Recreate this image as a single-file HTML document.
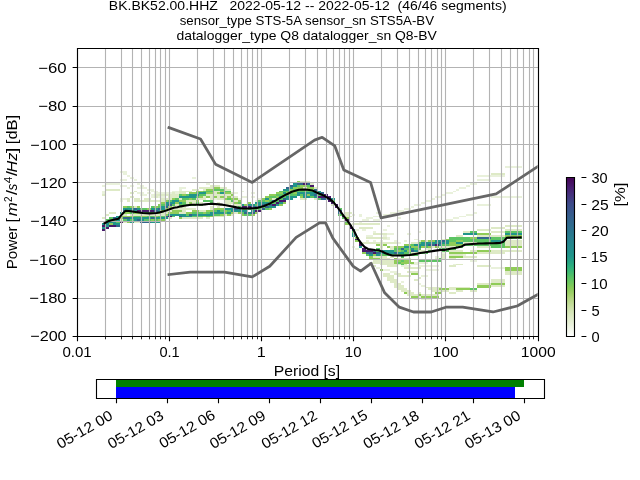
<!DOCTYPE html><html><head><meta charset="utf-8"><style>html,body{margin:0;padding:0;background:#fff;overflow:hidden}svg{display:block;will-change:transform}text{font-family:"Liberation Sans",sans-serif;white-space:pre}</style></head><body>
<svg width="640" height="480" viewBox="0 0 640 480">
<rect width="640" height="480" fill="#fff"/>
<defs><clipPath id="axc"><rect x="76.8" y="48" width="460.8" height="288"/></clipPath>
<linearGradient id="cbg" x1="0" y1="1" x2="0" y2="0"><stop offset="0.0000" stop-color="#ffffff"/><stop offset="0.0333" stop-color="#f5f8ee"/><stop offset="0.0667" stop-color="#ebf2de"/><stop offset="0.1000" stop-color="#e2edce"/><stop offset="0.1333" stop-color="#dae8c0"/><stop offset="0.1667" stop-color="#d0e3ae"/><stop offset="0.2000" stop-color="#c3dc99"/><stop offset="0.2333" stop-color="#b4d682"/><stop offset="0.2667" stop-color="#9fd069"/><stop offset="0.3000" stop-color="#89cb59"/><stop offset="0.3333" stop-color="#71c85e"/><stop offset="0.3667" stop-color="#59c364"/><stop offset="0.4000" stop-color="#43ba71"/><stop offset="0.4333" stop-color="#2db17d"/><stop offset="0.4667" stop-color="#27a383"/><stop offset="0.5000" stop-color="#20968a"/><stop offset="0.5333" stop-color="#228f8b"/><stop offset="0.5667" stop-color="#24898d"/><stop offset="0.6000" stop-color="#26828e"/><stop offset="0.6333" stop-color="#297a8e"/><stop offset="0.6667" stop-color="#2c728e"/><stop offset="0.7000" stop-color="#306a8e"/><stop offset="0.7333" stop-color="#33638d"/><stop offset="0.7667" stop-color="#375b8c"/><stop offset="0.8000" stop-color="#3a528b"/><stop offset="0.8333" stop-color="#3e4a89"/><stop offset="0.8667" stop-color="#423b81"/><stop offset="0.9000" stop-color="#462d7a"/><stop offset="0.9333" stop-color="#471e70"/><stop offset="0.9667" stop-color="#461062"/><stop offset="1.0000" stop-color="#440154"/></linearGradient>
</defs>
<g clip-path="url(#axc)" shape-rendering="crispEdges"><rect x="179.00" y="191.00" width="3.00" height="1.00" fill="#deeac6"/><rect x="179.00" y="189.00" width="3.00" height="2.00" fill="#e9f1db"/><rect x="179.00" y="187.00" width="3.00" height="2.00" fill="#e9f1db"/><rect x="182.00" y="198.00" width="4.00" height="2.00" fill="#5cc463"/><rect x="182.00" y="187.00" width="4.00" height="2.00" fill="#e9f1db"/><rect x="192.00" y="189.00" width="4.00" height="2.00" fill="#deeac6"/><rect x="192.00" y="177.00" width="4.00" height="2.00" fill="#e9f1db"/><rect x="196.00" y="196.00" width="3.00" height="2.00" fill="#5cc463"/><rect x="196.00" y="192.00" width="3.00" height="2.00" fill="#5cc463"/><rect x="203.00" y="194.00" width="3.00" height="2.00" fill="#5cc463"/><rect x="206.00" y="192.00" width="4.00" height="2.00" fill="#90cc58"/><rect x="206.00" y="189.00" width="4.00" height="2.00" fill="#90cc58"/><rect x="206.00" y="183.00" width="4.00" height="2.00" fill="#e9f1db"/><rect x="210.00" y="194.00" width="3.00" height="2.00" fill="#deeac6"/><rect x="213.00" y="198.00" width="4.00" height="2.00" fill="#e9f1db"/><rect x="213.00" y="196.00" width="4.00" height="2.00" fill="#90cc58"/><rect x="213.00" y="194.00" width="4.00" height="2.00" fill="#deeac6"/><rect x="213.00" y="187.00" width="4.00" height="2.00" fill="#90cc58"/><rect x="217.00" y="185.00" width="3.00" height="2.00" fill="#deeac6"/><rect x="220.00" y="196.00" width="4.00" height="2.00" fill="#90cc58"/><rect x="224.00" y="198.00" width="3.00" height="2.00" fill="#90cc58"/><rect x="227.00" y="189.00" width="4.00" height="2.00" fill="#deeac6"/><rect x="231.00" y="196.00" width="3.00" height="2.00" fill="#deeac6"/><rect x="231.00" y="194.00" width="3.00" height="2.00" fill="#90cc58"/><rect x="234.00" y="192.00" width="4.00" height="2.00" fill="#e9f1db"/><rect x="234.00" y="181.00" width="4.00" height="2.00" fill="#e9f1db"/><rect x="238.00" y="198.00" width="3.00" height="2.00" fill="#e9f1db"/><rect x="241.00" y="196.00" width="3.00" height="2.00" fill="#e9f1db"/><rect x="241.00" y="191.00" width="3.00" height="1.00" fill="#e9f1db"/><rect x="244.00" y="196.00" width="4.00" height="2.00" fill="#e9f1db"/><rect x="251.00" y="196.00" width="4.00" height="2.00" fill="#e9f1db"/><rect x="251.00" y="192.00" width="4.00" height="2.00" fill="#e9f1db"/><rect x="255.00" y="200.00" width="3.00" height="2.00" fill="#e9f1db"/><rect x="258.00" y="204.00" width="4.00" height="2.00" fill="#20958a"/><rect x="258.00" y="198.00" width="4.00" height="2.00" fill="#e9f1db"/><rect x="352.00" y="246.00" width="3.00" height="2.00" fill="#e9f1db"/><rect x="352.00" y="214.00" width="3.00" height="2.00" fill="#e9f1db"/><rect x="355.00" y="248.00" width="4.00" height="2.00" fill="#e9f1db"/><rect x="355.00" y="229.00" width="4.00" height="2.00" fill="#e9f1db"/><rect x="355.00" y="223.00" width="4.00" height="2.00" fill="#deeac6"/><rect x="359.00" y="221.00" width="3.00" height="2.00" fill="#e9f1db"/><rect x="359.00" y="216.00" width="3.00" height="1.00" fill="#e9f1db"/><rect x="359.00" y="214.00" width="3.00" height="2.00" fill="#e9f1db"/><rect x="362.00" y="229.00" width="4.00" height="2.00" fill="#e9f1db"/><rect x="366.00" y="240.00" width="3.00" height="2.00" fill="#e9f1db"/><rect x="366.00" y="235.00" width="3.00" height="2.00" fill="#e9f1db"/><rect x="366.00" y="219.00" width="3.00" height="2.00" fill="#e9f1db"/><rect x="369.00" y="235.00" width="4.00" height="2.00" fill="#e9f1db"/><rect x="373.00" y="240.00" width="3.00" height="2.00" fill="#e9f1db"/><rect x="373.00" y="231.00" width="3.00" height="2.00" fill="#e9f1db"/><rect x="376.00" y="237.00" width="4.00" height="2.00" fill="#deeac6"/><rect x="376.00" y="223.00" width="4.00" height="2.00" fill="#deeac6"/><rect x="376.00" y="212.00" width="4.00" height="2.00" fill="#e9f1db"/><rect x="380.00" y="248.00" width="3.00" height="2.00" fill="#e9f1db"/><rect x="380.00" y="240.00" width="3.00" height="2.00" fill="#e9f1db"/><rect x="383.00" y="239.00" width="4.00" height="1.00" fill="#e9f1db"/><rect x="383.00" y="237.00" width="4.00" height="2.00" fill="#deeac6"/><rect x="383.00" y="235.00" width="4.00" height="2.00" fill="#e9f1db"/><rect x="383.00" y="233.00" width="4.00" height="2.00" fill="#deeac6"/><rect x="383.00" y="229.00" width="4.00" height="2.00" fill="#e9f1db"/><rect x="387.00" y="239.00" width="3.00" height="1.00" fill="#e9f1db"/><rect x="387.00" y="237.00" width="3.00" height="2.00" fill="#e9f1db"/><rect x="387.00" y="225.00" width="3.00" height="2.00" fill="#e9f1db"/><rect x="394.00" y="246.00" width="3.00" height="2.00" fill="#90cc58"/><rect x="394.00" y="240.00" width="3.00" height="2.00" fill="#e9f1db"/><rect x="397.00" y="258.00" width="4.00" height="2.00" fill="#deeac6"/><rect x="397.00" y="242.00" width="4.00" height="2.00" fill="#e9f1db"/><rect x="397.00" y="217.00" width="4.00" height="2.00" fill="#e9f1db"/><rect x="404.00" y="258.00" width="3.00" height="2.00" fill="#deeac6"/><rect x="404.00" y="244.00" width="3.00" height="2.00" fill="#90cc58"/><rect x="404.00" y="240.00" width="3.00" height="2.00" fill="#e9f1db"/><rect x="407.00" y="250.00" width="4.00" height="2.00" fill="#90cc58"/><rect x="407.00" y="248.00" width="4.00" height="2.00" fill="#5cc463"/><rect x="407.00" y="233.00" width="4.00" height="2.00" fill="#e9f1db"/><rect x="414.00" y="252.00" width="4.00" height="2.00" fill="#deeac6"/><rect x="414.00" y="239.00" width="4.00" height="1.00" fill="#e9f1db"/><rect x="418.00" y="252.00" width="3.00" height="2.00" fill="#5cc463"/><rect x="418.00" y="244.00" width="3.00" height="2.00" fill="#20958a"/><rect x="418.00" y="231.00" width="3.00" height="2.00" fill="#e9f1db"/><rect x="425.00" y="248.00" width="3.00" height="2.00" fill="#e9f1db"/><rect x="425.00" y="242.00" width="3.00" height="2.00" fill="#20958a"/><rect x="432.00" y="250.00" width="3.00" height="2.00" fill="#5cc463"/><rect x="432.00" y="246.00" width="3.00" height="2.00" fill="#deeac6"/><rect x="435.00" y="256.00" width="4.00" height="2.00" fill="#e9f1db"/><rect x="435.00" y="240.00" width="4.00" height="2.00" fill="#20958a"/><rect x="439.00" y="258.00" width="3.00" height="2.00" fill="#5cc463"/><rect x="442.00" y="252.00" width="4.00" height="2.00" fill="#e9f1db"/><rect x="442.00" y="250.00" width="4.00" height="2.00" fill="#5cc463"/><rect x="446.00" y="244.00" width="3.00" height="2.00" fill="#5cc463"/><rect x="453.00" y="264.00" width="3.00" height="1.00" fill="#e9f1db"/><rect x="453.00" y="246.00" width="3.00" height="2.00" fill="#deeac6"/><rect x="463.00" y="254.00" width="3.00" height="2.00" fill="#e9f1db"/><rect x="463.00" y="252.00" width="3.00" height="2.00" fill="#90cc58"/><rect x="404.00" y="208.00" width="3.00" height="2.00" fill="#e9f1db"/><rect x="407.00" y="208.00" width="4.00" height="2.00" fill="#e9f1db"/><rect x="411.00" y="206.00" width="3.00" height="2.00" fill="#e9f1db"/><rect x="414.00" y="204.00" width="4.00" height="2.00" fill="#e9f1db"/><rect x="418.00" y="204.00" width="3.00" height="2.00" fill="#e9f1db"/><rect x="421.00" y="202.00" width="4.00" height="2.00" fill="#e9f1db"/><rect x="425.00" y="200.00" width="3.00" height="2.00" fill="#e9f1db"/><rect x="428.00" y="200.00" width="4.00" height="2.00" fill="#e9f1db"/><rect x="432.00" y="198.00" width="3.00" height="2.00" fill="#e9f1db"/><rect x="435.00" y="196.00" width="4.00" height="2.00" fill="#e9f1db"/><rect x="439.00" y="196.00" width="3.00" height="2.00" fill="#e9f1db"/><rect x="442.00" y="194.00" width="4.00" height="2.00" fill="#e9f1db"/><rect x="446.00" y="192.00" width="3.00" height="2.00" fill="#e9f1db"/><rect x="449.00" y="192.00" width="4.00" height="2.00" fill="#e9f1db"/><rect x="453.00" y="191.00" width="3.00" height="1.00" fill="#e9f1db"/><rect x="456.00" y="189.00" width="3.00" height="2.00" fill="#e9f1db"/><rect x="459.00" y="187.00" width="4.00" height="2.00" fill="#e9f1db"/><rect x="463.00" y="187.00" width="3.00" height="2.00" fill="#e9f1db"/><rect x="466.00" y="185.00" width="4.00" height="2.00" fill="#e9f1db"/><rect x="470.00" y="183.00" width="3.00" height="2.00" fill="#e9f1db"/><rect x="473.00" y="183.00" width="4.00" height="2.00" fill="#e9f1db"/><rect x="439.00" y="221.00" width="3.00" height="2.00" fill="#e9f1db"/><rect x="442.00" y="221.00" width="4.00" height="2.00" fill="#e9f1db"/><rect x="446.00" y="219.00" width="3.00" height="2.00" fill="#e9f1db"/><rect x="449.00" y="219.00" width="4.00" height="2.00" fill="#e9f1db"/><rect x="453.00" y="217.00" width="3.00" height="2.00" fill="#e9f1db"/><rect x="456.00" y="217.00" width="3.00" height="2.00" fill="#e9f1db"/><rect x="459.00" y="216.00" width="4.00" height="1.00" fill="#e9f1db"/><rect x="463.00" y="216.00" width="3.00" height="1.00" fill="#e9f1db"/><rect x="466.00" y="214.00" width="4.00" height="2.00" fill="#e9f1db"/><rect x="470.00" y="214.00" width="3.00" height="2.00" fill="#e9f1db"/><rect x="473.00" y="212.00" width="4.00" height="2.00" fill="#e9f1db"/><rect x="477.00" y="175.00" width="3.00" height="2.00" fill="#e9f1db"/><rect x="480.00" y="175.00" width="4.00" height="2.00" fill="#e9f1db"/><rect x="484.00" y="175.00" width="3.00" height="2.00" fill="#e9f1db"/><rect x="487.00" y="175.00" width="4.00" height="2.00" fill="#e9f1db"/><rect x="491.00" y="175.00" width="3.00" height="2.00" fill="#e9f1db"/><rect x="494.00" y="175.00" width="4.00" height="2.00" fill="#e9f1db"/><rect x="498.00" y="175.00" width="3.00" height="2.00" fill="#e9f1db"/><rect x="501.00" y="175.00" width="4.00" height="2.00" fill="#e9f1db"/><rect x="491.00" y="173.00" width="3.00" height="2.00" fill="#deeac6"/><rect x="494.00" y="173.00" width="4.00" height="2.00" fill="#deeac6"/><rect x="498.00" y="173.00" width="3.00" height="2.00" fill="#deeac6"/><rect x="501.00" y="173.00" width="4.00" height="2.00" fill="#deeac6"/><rect x="477.00" y="179.00" width="3.00" height="2.00" fill="#e9f1db"/><rect x="480.00" y="179.00" width="4.00" height="2.00" fill="#e9f1db"/><rect x="484.00" y="179.00" width="3.00" height="2.00" fill="#e9f1db"/><rect x="487.00" y="179.00" width="4.00" height="2.00" fill="#e9f1db"/><rect x="505.00" y="166.00" width="3.00" height="2.00" fill="#e9f1db"/><rect x="508.00" y="166.00" width="3.00" height="2.00" fill="#e9f1db"/><rect x="511.00" y="166.00" width="4.00" height="2.00" fill="#e9f1db"/><rect x="515.00" y="166.00" width="3.00" height="2.00" fill="#e9f1db"/><rect x="518.00" y="166.00" width="4.00" height="2.00" fill="#e9f1db"/><rect x="491.00" y="196.00" width="3.00" height="2.00" fill="#e9f1db"/><rect x="494.00" y="196.00" width="4.00" height="2.00" fill="#e9f1db"/><rect x="498.00" y="196.00" width="3.00" height="2.00" fill="#e9f1db"/><rect x="501.00" y="196.00" width="4.00" height="2.00" fill="#e9f1db"/><rect x="505.00" y="196.00" width="3.00" height="2.00" fill="#e9f1db"/><rect x="508.00" y="196.00" width="3.00" height="2.00" fill="#e9f1db"/><rect x="511.00" y="196.00" width="4.00" height="2.00" fill="#e9f1db"/><rect x="515.00" y="196.00" width="3.00" height="2.00" fill="#e9f1db"/><rect x="518.00" y="196.00" width="4.00" height="2.00" fill="#e9f1db"/><rect x="477.00" y="204.00" width="3.00" height="2.00" fill="#e9f1db"/><rect x="480.00" y="204.00" width="4.00" height="2.00" fill="#e9f1db"/><rect x="484.00" y="204.00" width="3.00" height="2.00" fill="#e9f1db"/><rect x="487.00" y="204.00" width="4.00" height="2.00" fill="#e9f1db"/><rect x="362.00" y="219.00" width="4.00" height="2.00" fill="#e9f1db"/><rect x="366.00" y="217.00" width="3.00" height="2.00" fill="#e9f1db"/><rect x="369.00" y="217.00" width="4.00" height="2.00" fill="#e9f1db"/><rect x="373.00" y="216.00" width="3.00" height="1.00" fill="#e9f1db"/><rect x="376.00" y="216.00" width="4.00" height="1.00" fill="#e9f1db"/><rect x="380.00" y="216.00" width="3.00" height="1.00" fill="#e9f1db"/><rect x="383.00" y="214.00" width="4.00" height="2.00" fill="#e9f1db"/><rect x="387.00" y="214.00" width="3.00" height="2.00" fill="#e9f1db"/><rect x="390.00" y="212.00" width="4.00" height="2.00" fill="#e9f1db"/><rect x="394.00" y="212.00" width="3.00" height="2.00" fill="#e9f1db"/><rect x="397.00" y="210.00" width="4.00" height="2.00" fill="#e9f1db"/><rect x="401.00" y="210.00" width="3.00" height="2.00" fill="#e9f1db"/><rect x="123.00" y="173.00" width="4.00" height="2.00" fill="#e9f1db"/><rect x="127.00" y="175.00" width="3.00" height="2.00" fill="#e9f1db"/><rect x="130.00" y="177.00" width="4.00" height="2.00" fill="#e9f1db"/><rect x="134.00" y="179.00" width="3.00" height="2.00" fill="#e9f1db"/><rect x="137.00" y="183.00" width="3.00" height="2.00" fill="#e9f1db"/><rect x="140.00" y="185.00" width="4.00" height="2.00" fill="#e9f1db"/><rect x="144.00" y="187.00" width="3.00" height="2.00" fill="#e9f1db"/><rect x="147.00" y="189.00" width="4.00" height="2.00" fill="#e9f1db"/><rect x="151.00" y="191.00" width="3.00" height="1.00" fill="#e9f1db"/><rect x="154.00" y="192.00" width="4.00" height="2.00" fill="#e9f1db"/><rect x="158.00" y="194.00" width="3.00" height="2.00" fill="#deeac6"/><rect x="161.00" y="196.00" width="4.00" height="2.00" fill="#e9f1db"/><rect x="102.00" y="185.00" width="4.00" height="2.00" fill="#e9f1db"/><rect x="102.00" y="191.00" width="4.00" height="1.00" fill="#e9f1db"/><rect x="102.00" y="192.00" width="4.00" height="2.00" fill="#e9f1db"/><rect x="102.00" y="194.00" width="4.00" height="2.00" fill="#deeac6"/><rect x="106.00" y="183.00" width="3.00" height="2.00" fill="#e9f1db"/><rect x="106.00" y="189.00" width="3.00" height="2.00" fill="#deeac6"/><rect x="109.00" y="183.00" width="4.00" height="2.00" fill="#e9f1db"/><rect x="109.00" y="189.00" width="4.00" height="2.00" fill="#deeac6"/><rect x="113.00" y="183.00" width="3.00" height="2.00" fill="#e9f1db"/><rect x="113.00" y="189.00" width="3.00" height="2.00" fill="#deeac6"/><rect x="116.00" y="183.00" width="4.00" height="2.00" fill="#e9f1db"/><rect x="116.00" y="189.00" width="4.00" height="2.00" fill="#deeac6"/><rect x="120.00" y="171.00" width="3.00" height="2.00" fill="#e9f1db"/><rect x="120.00" y="179.00" width="3.00" height="2.00" fill="#e9f1db"/><rect x="120.00" y="185.00" width="3.00" height="2.00" fill="#e9f1db"/><rect x="120.00" y="198.00" width="3.00" height="2.00" fill="#e9f1db"/><rect x="120.00" y="200.00" width="3.00" height="2.00" fill="#e9f1db"/><rect x="123.00" y="171.00" width="4.00" height="2.00" fill="#e9f1db"/><rect x="123.00" y="179.00" width="4.00" height="2.00" fill="#e9f1db"/><rect x="123.00" y="185.00" width="4.00" height="2.00" fill="#e9f1db"/><rect x="123.00" y="198.00" width="4.00" height="2.00" fill="#e9f1db"/><rect x="127.00" y="187.00" width="3.00" height="2.00" fill="#e9f1db"/><rect x="127.00" y="198.00" width="3.00" height="2.00" fill="#deeac6"/><rect x="127.00" y="200.00" width="3.00" height="2.00" fill="#deeac6"/><rect x="130.00" y="185.00" width="4.00" height="2.00" fill="#e9f1db"/><rect x="130.00" y="192.00" width="4.00" height="2.00" fill="#deeac6"/><rect x="130.00" y="196.00" width="4.00" height="2.00" fill="#deeac6"/><rect x="134.00" y="191.00" width="3.00" height="1.00" fill="#deeac6"/><rect x="134.00" y="198.00" width="3.00" height="2.00" fill="#deeac6"/><rect x="134.00" y="200.00" width="3.00" height="2.00" fill="#deeac6"/><rect x="137.00" y="187.00" width="3.00" height="2.00" fill="#e9f1db"/><rect x="137.00" y="192.00" width="3.00" height="2.00" fill="#e9f1db"/><rect x="137.00" y="198.00" width="3.00" height="2.00" fill="#deeac6"/><rect x="137.00" y="200.00" width="3.00" height="2.00" fill="#deeac6"/><rect x="140.00" y="187.00" width="4.00" height="2.00" fill="#e9f1db"/><rect x="140.00" y="192.00" width="4.00" height="2.00" fill="#e9f1db"/><rect x="140.00" y="194.00" width="4.00" height="2.00" fill="#e9f1db"/><rect x="140.00" y="200.00" width="4.00" height="2.00" fill="#deeac6"/><rect x="144.00" y="194.00" width="3.00" height="2.00" fill="#e9f1db"/><rect x="144.00" y="198.00" width="3.00" height="2.00" fill="#deeac6"/><rect x="144.00" y="200.00" width="3.00" height="2.00" fill="#deeac6"/><rect x="147.00" y="192.00" width="4.00" height="2.00" fill="#e9f1db"/><rect x="147.00" y="198.00" width="4.00" height="2.00" fill="#deeac6"/><rect x="147.00" y="200.00" width="4.00" height="2.00" fill="#deeac6"/><rect x="151.00" y="189.00" width="3.00" height="2.00" fill="#e9f1db"/><rect x="151.00" y="194.00" width="3.00" height="2.00" fill="#e9f1db"/><rect x="151.00" y="196.00" width="3.00" height="2.00" fill="#e9f1db"/><rect x="151.00" y="200.00" width="3.00" height="2.00" fill="#deeac6"/><rect x="154.00" y="191.00" width="4.00" height="1.00" fill="#e9f1db"/><rect x="154.00" y="194.00" width="4.00" height="2.00" fill="#deeac6"/><rect x="154.00" y="196.00" width="4.00" height="2.00" fill="#deeac6"/><rect x="154.00" y="200.00" width="4.00" height="2.00" fill="#deeac6"/><rect x="158.00" y="192.00" width="3.00" height="2.00" fill="#e9f1db"/><rect x="158.00" y="196.00" width="3.00" height="2.00" fill="#e9f1db"/><rect x="158.00" y="200.00" width="3.00" height="2.00" fill="#deeac6"/><rect x="161.00" y="192.00" width="4.00" height="2.00" fill="#e9f1db"/><rect x="161.00" y="194.00" width="4.00" height="2.00" fill="#deeac6"/><rect x="161.00" y="198.00" width="4.00" height="2.00" fill="#deeac6"/><rect x="161.00" y="200.00" width="4.00" height="2.00" fill="#deeac6"/><rect x="165.00" y="192.00" width="3.00" height="2.00" fill="#e9f1db"/><rect x="165.00" y="194.00" width="3.00" height="2.00" fill="#deeac6"/><rect x="165.00" y="198.00" width="3.00" height="2.00" fill="#deeac6"/><rect x="165.00" y="200.00" width="3.00" height="2.00" fill="#90cc58"/><rect x="168.00" y="192.00" width="4.00" height="2.00" fill="#e9f1db"/><rect x="168.00" y="194.00" width="4.00" height="2.00" fill="#deeac6"/><rect x="168.00" y="196.00" width="4.00" height="2.00" fill="#deeac6"/><rect x="168.00" y="198.00" width="4.00" height="2.00" fill="#deeac6"/><rect x="168.00" y="200.00" width="4.00" height="2.00" fill="#5cc463"/><rect x="172.00" y="191.00" width="3.00" height="1.00" fill="#e9f1db"/><rect x="172.00" y="192.00" width="3.00" height="2.00" fill="#deeac6"/><rect x="172.00" y="194.00" width="3.00" height="2.00" fill="#deeac6"/><rect x="172.00" y="196.00" width="3.00" height="2.00" fill="#deeac6"/><rect x="172.00" y="198.00" width="3.00" height="2.00" fill="#90cc58"/><rect x="172.00" y="200.00" width="3.00" height="2.00" fill="#20958a"/><rect x="175.00" y="191.00" width="4.00" height="1.00" fill="#e9f1db"/><rect x="175.00" y="192.00" width="4.00" height="2.00" fill="#e9f1db"/><rect x="175.00" y="194.00" width="4.00" height="2.00" fill="#deeac6"/><rect x="175.00" y="196.00" width="4.00" height="2.00" fill="#deeac6"/><rect x="175.00" y="198.00" width="4.00" height="2.00" fill="#5cc463"/><rect x="175.00" y="200.00" width="4.00" height="2.00" fill="#20958a"/><rect x="369.00" y="258.00" width="4.00" height="2.00" fill="#90cc58"/><rect x="369.00" y="262.00" width="4.00" height="2.00" fill="#deeac6"/><rect x="369.00" y="264.00" width="4.00" height="1.00" fill="#e9f1db"/><rect x="373.00" y="258.00" width="3.00" height="2.00" fill="#90cc58"/><rect x="373.00" y="260.00" width="3.00" height="2.00" fill="#deeac6"/><rect x="373.00" y="262.00" width="3.00" height="2.00" fill="#deeac6"/><rect x="373.00" y="265.00" width="3.00" height="2.00" fill="#deeac6"/><rect x="376.00" y="258.00" width="4.00" height="2.00" fill="#90cc58"/><rect x="376.00" y="260.00" width="4.00" height="2.00" fill="#deeac6"/><rect x="376.00" y="262.00" width="4.00" height="2.00" fill="#deeac6"/><rect x="376.00" y="267.00" width="4.00" height="2.00" fill="#e9f1db"/><rect x="380.00" y="258.00" width="3.00" height="2.00" fill="#deeac6"/><rect x="380.00" y="260.00" width="3.00" height="2.00" fill="#deeac6"/><rect x="380.00" y="262.00" width="3.00" height="2.00" fill="#deeac6"/><rect x="380.00" y="264.00" width="3.00" height="1.00" fill="#deeac6"/><rect x="380.00" y="269.00" width="3.00" height="2.00" fill="#90cc58"/><rect x="383.00" y="260.00" width="4.00" height="2.00" fill="#deeac6"/><rect x="383.00" y="262.00" width="4.00" height="2.00" fill="#deeac6"/><rect x="383.00" y="264.00" width="4.00" height="1.00" fill="#deeac6"/><rect x="383.00" y="269.00" width="4.00" height="2.00" fill="#e9f1db"/><rect x="383.00" y="273.00" width="4.00" height="2.00" fill="#deeac6"/><rect x="383.00" y="275.00" width="4.00" height="2.00" fill="#deeac6"/><rect x="387.00" y="260.00" width="3.00" height="2.00" fill="#deeac6"/><rect x="387.00" y="262.00" width="3.00" height="2.00" fill="#deeac6"/><rect x="387.00" y="264.00" width="3.00" height="1.00" fill="#deeac6"/><rect x="387.00" y="265.00" width="3.00" height="2.00" fill="#deeac6"/><rect x="387.00" y="269.00" width="3.00" height="2.00" fill="#e9f1db"/><rect x="387.00" y="273.00" width="3.00" height="2.00" fill="#deeac6"/><rect x="387.00" y="275.00" width="3.00" height="2.00" fill="#deeac6"/><rect x="387.00" y="277.00" width="3.00" height="2.00" fill="#deeac6"/><rect x="387.00" y="279.00" width="3.00" height="2.00" fill="#deeac6"/><rect x="390.00" y="260.00" width="4.00" height="2.00" fill="#deeac6"/><rect x="390.00" y="262.00" width="4.00" height="2.00" fill="#deeac6"/><rect x="390.00" y="264.00" width="4.00" height="1.00" fill="#deeac6"/><rect x="390.00" y="265.00" width="4.00" height="2.00" fill="#deeac6"/><rect x="390.00" y="271.00" width="4.00" height="2.00" fill="#e9f1db"/><rect x="390.00" y="275.00" width="4.00" height="2.00" fill="#deeac6"/><rect x="390.00" y="277.00" width="4.00" height="2.00" fill="#deeac6"/><rect x="390.00" y="279.00" width="4.00" height="2.00" fill="#deeac6"/><rect x="390.00" y="281.00" width="4.00" height="2.00" fill="#deeac6"/><rect x="394.00" y="258.00" width="3.00" height="2.00" fill="#90cc58"/><rect x="394.00" y="260.00" width="3.00" height="2.00" fill="#90cc58"/><rect x="394.00" y="262.00" width="3.00" height="2.00" fill="#90cc58"/><rect x="394.00" y="264.00" width="3.00" height="1.00" fill="#deeac6"/><rect x="394.00" y="265.00" width="3.00" height="2.00" fill="#deeac6"/><rect x="394.00" y="271.00" width="3.00" height="2.00" fill="#e9f1db"/><rect x="394.00" y="273.00" width="3.00" height="2.00" fill="#deeac6"/><rect x="394.00" y="279.00" width="3.00" height="2.00" fill="#deeac6"/><rect x="394.00" y="281.00" width="3.00" height="2.00" fill="#deeac6"/><rect x="394.00" y="283.00" width="3.00" height="2.00" fill="#deeac6"/><rect x="394.00" y="285.00" width="3.00" height="2.00" fill="#deeac6"/><rect x="394.00" y="287.00" width="3.00" height="1.00" fill="#deeac6"/><rect x="397.00" y="260.00" width="4.00" height="2.00" fill="#90cc58"/><rect x="397.00" y="262.00" width="4.00" height="2.00" fill="#5cc463"/><rect x="397.00" y="264.00" width="4.00" height="1.00" fill="#deeac6"/><rect x="397.00" y="273.00" width="4.00" height="2.00" fill="#deeac6"/><rect x="397.00" y="275.00" width="4.00" height="2.00" fill="#deeac6"/><rect x="397.00" y="283.00" width="4.00" height="2.00" fill="#deeac6"/><rect x="397.00" y="285.00" width="4.00" height="2.00" fill="#deeac6"/><rect x="397.00" y="287.00" width="4.00" height="1.00" fill="#deeac6"/><rect x="397.00" y="288.00" width="4.00" height="2.00" fill="#deeac6"/><rect x="401.00" y="258.00" width="3.00" height="2.00" fill="#deeac6"/><rect x="401.00" y="260.00" width="3.00" height="2.00" fill="#5cc463"/><rect x="401.00" y="262.00" width="3.00" height="2.00" fill="#90cc58"/><rect x="401.00" y="264.00" width="3.00" height="1.00" fill="#5cc463"/><rect x="401.00" y="265.00" width="3.00" height="2.00" fill="#e9f1db"/><rect x="401.00" y="275.00" width="3.00" height="2.00" fill="#deeac6"/><rect x="401.00" y="281.00" width="3.00" height="2.00" fill="#e9f1db"/><rect x="401.00" y="285.00" width="3.00" height="2.00" fill="#deeac6"/><rect x="401.00" y="287.00" width="3.00" height="1.00" fill="#deeac6"/><rect x="401.00" y="288.00" width="3.00" height="2.00" fill="#deeac6"/><rect x="401.00" y="290.00" width="3.00" height="2.00" fill="#deeac6"/><rect x="404.00" y="260.00" width="3.00" height="2.00" fill="#90cc58"/><rect x="404.00" y="262.00" width="3.00" height="2.00" fill="#90cc58"/><rect x="404.00" y="264.00" width="3.00" height="1.00" fill="#deeac6"/><rect x="404.00" y="265.00" width="3.00" height="2.00" fill="#e9f1db"/><rect x="404.00" y="267.00" width="3.00" height="2.00" fill="#deeac6"/><rect x="404.00" y="275.00" width="3.00" height="2.00" fill="#deeac6"/><rect x="404.00" y="288.00" width="3.00" height="2.00" fill="#deeac6"/><rect x="404.00" y="290.00" width="3.00" height="2.00" fill="#deeac6"/><rect x="404.00" y="292.00" width="3.00" height="2.00" fill="#90cc58"/><rect x="407.00" y="258.00" width="4.00" height="2.00" fill="#deeac6"/><rect x="407.00" y="260.00" width="4.00" height="2.00" fill="#90cc58"/><rect x="407.00" y="262.00" width="4.00" height="2.00" fill="#90cc58"/><rect x="407.00" y="265.00" width="4.00" height="2.00" fill="#e9f1db"/><rect x="407.00" y="267.00" width="4.00" height="2.00" fill="#deeac6"/><rect x="407.00" y="271.00" width="4.00" height="2.00" fill="#deeac6"/><rect x="407.00" y="275.00" width="4.00" height="2.00" fill="#deeac6"/><rect x="407.00" y="290.00" width="4.00" height="2.00" fill="#deeac6"/><rect x="407.00" y="292.00" width="4.00" height="2.00" fill="#deeac6"/><rect x="407.00" y="294.00" width="4.00" height="2.00" fill="#deeac6"/><rect x="411.00" y="262.00" width="3.00" height="2.00" fill="#90cc58"/><rect x="411.00" y="264.00" width="3.00" height="1.00" fill="#e9f1db"/><rect x="411.00" y="267.00" width="3.00" height="2.00" fill="#deeac6"/><rect x="411.00" y="271.00" width="3.00" height="2.00" fill="#deeac6"/><rect x="411.00" y="273.00" width="3.00" height="2.00" fill="#90cc58"/><rect x="411.00" y="292.00" width="3.00" height="2.00" fill="#deeac6"/><rect x="411.00" y="294.00" width="3.00" height="2.00" fill="#deeac6"/><rect x="411.00" y="296.00" width="3.00" height="2.00" fill="#90cc58"/><rect x="414.00" y="262.00" width="4.00" height="2.00" fill="#e9f1db"/><rect x="414.00" y="264.00" width="4.00" height="1.00" fill="#e9f1db"/><rect x="414.00" y="267.00" width="4.00" height="2.00" fill="#deeac6"/><rect x="414.00" y="271.00" width="4.00" height="2.00" fill="#deeac6"/><rect x="414.00" y="273.00" width="4.00" height="2.00" fill="#90cc58"/><rect x="414.00" y="279.00" width="4.00" height="2.00" fill="#deeac6"/><rect x="414.00" y="294.00" width="4.00" height="2.00" fill="#deeac6"/><rect x="414.00" y="296.00" width="4.00" height="2.00" fill="#90cc58"/><rect x="414.00" y="298.00" width="4.00" height="2.00" fill="#e9f1db"/><rect x="418.00" y="260.00" width="3.00" height="2.00" fill="#5cc463"/><rect x="418.00" y="262.00" width="3.00" height="2.00" fill="#e9f1db"/><rect x="418.00" y="265.00" width="3.00" height="2.00" fill="#e9f1db"/><rect x="418.00" y="267.00" width="3.00" height="2.00" fill="#deeac6"/><rect x="418.00" y="277.00" width="3.00" height="2.00" fill="#deeac6"/><rect x="418.00" y="283.00" width="3.00" height="2.00" fill="#e9f1db"/><rect x="418.00" y="292.00" width="3.00" height="2.00" fill="#deeac6"/><rect x="418.00" y="294.00" width="3.00" height="2.00" fill="#90cc58"/><rect x="418.00" y="296.00" width="3.00" height="2.00" fill="#e9f1db"/><rect x="421.00" y="260.00" width="4.00" height="2.00" fill="#5cc463"/><rect x="421.00" y="262.00" width="4.00" height="2.00" fill="#e9f1db"/><rect x="421.00" y="265.00" width="4.00" height="2.00" fill="#e9f1db"/><rect x="421.00" y="275.00" width="4.00" height="2.00" fill="#e9f1db"/><rect x="421.00" y="285.00" width="4.00" height="2.00" fill="#e9f1db"/><rect x="421.00" y="294.00" width="4.00" height="2.00" fill="#deeac6"/><rect x="421.00" y="296.00" width="4.00" height="2.00" fill="#90cc58"/><rect x="421.00" y="298.00" width="4.00" height="2.00" fill="#e9f1db"/><rect x="425.00" y="260.00" width="3.00" height="2.00" fill="#5cc463"/><rect x="425.00" y="262.00" width="3.00" height="2.00" fill="#e9f1db"/><rect x="425.00" y="265.00" width="3.00" height="2.00" fill="#e9f1db"/><rect x="425.00" y="269.00" width="3.00" height="2.00" fill="#e9f1db"/><rect x="425.00" y="275.00" width="3.00" height="2.00" fill="#e9f1db"/><rect x="425.00" y="287.00" width="3.00" height="1.00" fill="#deeac6"/><rect x="425.00" y="294.00" width="3.00" height="2.00" fill="#deeac6"/><rect x="425.00" y="296.00" width="3.00" height="2.00" fill="#90cc58"/><rect x="425.00" y="298.00" width="3.00" height="2.00" fill="#e9f1db"/><rect x="428.00" y="260.00" width="4.00" height="2.00" fill="#5cc463"/><rect x="428.00" y="265.00" width="4.00" height="2.00" fill="#e9f1db"/><rect x="428.00" y="269.00" width="4.00" height="2.00" fill="#e9f1db"/><rect x="428.00" y="287.00" width="4.00" height="1.00" fill="#deeac6"/><rect x="428.00" y="288.00" width="4.00" height="2.00" fill="#deeac6"/><rect x="428.00" y="294.00" width="4.00" height="2.00" fill="#deeac6"/><rect x="428.00" y="296.00" width="4.00" height="2.00" fill="#90cc58"/><rect x="428.00" y="298.00" width="4.00" height="2.00" fill="#e9f1db"/><rect x="432.00" y="260.00" width="3.00" height="2.00" fill="#5cc463"/><rect x="432.00" y="265.00" width="3.00" height="2.00" fill="#e9f1db"/><rect x="432.00" y="269.00" width="3.00" height="2.00" fill="#e9f1db"/><rect x="432.00" y="287.00" width="3.00" height="1.00" fill="#deeac6"/><rect x="432.00" y="288.00" width="3.00" height="2.00" fill="#deeac6"/><rect x="432.00" y="290.00" width="3.00" height="2.00" fill="#deeac6"/><rect x="432.00" y="294.00" width="3.00" height="2.00" fill="#deeac6"/><rect x="432.00" y="296.00" width="3.00" height="2.00" fill="#90cc58"/><rect x="435.00" y="260.00" width="4.00" height="2.00" fill="#5cc463"/><rect x="435.00" y="265.00" width="4.00" height="2.00" fill="#e9f1db"/><rect x="435.00" y="269.00" width="4.00" height="2.00" fill="#e9f1db"/><rect x="435.00" y="287.00" width="4.00" height="1.00" fill="#deeac6"/><rect x="435.00" y="288.00" width="4.00" height="2.00" fill="#deeac6"/><rect x="435.00" y="290.00" width="4.00" height="2.00" fill="#deeac6"/><rect x="435.00" y="292.00" width="4.00" height="2.00" fill="#90cc58"/><rect x="435.00" y="294.00" width="4.00" height="2.00" fill="#deeac6"/><rect x="435.00" y="296.00" width="4.00" height="2.00" fill="#90cc58"/><rect x="439.00" y="260.00" width="3.00" height="2.00" fill="#5cc463"/><rect x="439.00" y="287.00" width="3.00" height="1.00" fill="#deeac6"/><rect x="439.00" y="288.00" width="3.00" height="2.00" fill="#90cc58"/><rect x="439.00" y="290.00" width="3.00" height="2.00" fill="#deeac6"/><rect x="439.00" y="292.00" width="3.00" height="2.00" fill="#90cc58"/><rect x="442.00" y="288.00" width="4.00" height="2.00" fill="#90cc58"/><rect x="442.00" y="290.00" width="4.00" height="2.00" fill="#deeac6"/><rect x="446.00" y="288.00" width="3.00" height="2.00" fill="#90cc58"/><rect x="446.00" y="290.00" width="3.00" height="2.00" fill="#deeac6"/><rect x="449.00" y="265.00" width="4.00" height="2.00" fill="#deeac6"/><rect x="449.00" y="287.00" width="4.00" height="1.00" fill="#deeac6"/><rect x="449.00" y="288.00" width="4.00" height="2.00" fill="#deeac6"/><rect x="449.00" y="292.00" width="4.00" height="2.00" fill="#deeac6"/><rect x="453.00" y="265.00" width="3.00" height="2.00" fill="#deeac6"/><rect x="453.00" y="287.00" width="3.00" height="1.00" fill="#deeac6"/><rect x="453.00" y="288.00" width="3.00" height="2.00" fill="#deeac6"/><rect x="453.00" y="292.00" width="3.00" height="2.00" fill="#deeac6"/><rect x="456.00" y="264.00" width="3.00" height="1.00" fill="#deeac6"/><rect x="456.00" y="287.00" width="3.00" height="1.00" fill="#deeac6"/><rect x="456.00" y="288.00" width="3.00" height="2.00" fill="#90cc58"/><rect x="456.00" y="290.00" width="3.00" height="2.00" fill="#deeac6"/><rect x="459.00" y="264.00" width="4.00" height="1.00" fill="#deeac6"/><rect x="459.00" y="287.00" width="4.00" height="1.00" fill="#deeac6"/><rect x="459.00" y="288.00" width="4.00" height="2.00" fill="#90cc58"/><rect x="459.00" y="290.00" width="4.00" height="2.00" fill="#deeac6"/><rect x="463.00" y="287.00" width="3.00" height="1.00" fill="#deeac6"/><rect x="463.00" y="288.00" width="3.00" height="2.00" fill="#90cc58"/><rect x="466.00" y="287.00" width="4.00" height="1.00" fill="#deeac6"/><rect x="466.00" y="288.00" width="4.00" height="2.00" fill="#90cc58"/><rect x="470.00" y="260.00" width="3.00" height="2.00" fill="#e9f1db"/><rect x="473.00" y="260.00" width="4.00" height="2.00" fill="#e9f1db"/><rect x="470.00" y="288.00" width="3.00" height="2.00" fill="#5cc463"/><rect x="470.00" y="290.00" width="3.00" height="2.00" fill="#deeac6"/><rect x="473.00" y="288.00" width="4.00" height="2.00" fill="#5cc463"/><rect x="473.00" y="290.00" width="4.00" height="2.00" fill="#deeac6"/><rect x="477.00" y="265.00" width="3.00" height="2.00" fill="#deeac6"/><rect x="477.00" y="283.00" width="3.00" height="2.00" fill="#deeac6"/><rect x="477.00" y="285.00" width="3.00" height="2.00" fill="#90cc58"/><rect x="477.00" y="287.00" width="3.00" height="1.00" fill="#90cc58"/><rect x="480.00" y="265.00" width="4.00" height="2.00" fill="#deeac6"/><rect x="480.00" y="283.00" width="4.00" height="2.00" fill="#deeac6"/><rect x="480.00" y="285.00" width="4.00" height="2.00" fill="#90cc58"/><rect x="480.00" y="287.00" width="4.00" height="1.00" fill="#90cc58"/><rect x="484.00" y="265.00" width="3.00" height="2.00" fill="#deeac6"/><rect x="484.00" y="283.00" width="3.00" height="2.00" fill="#deeac6"/><rect x="484.00" y="285.00" width="3.00" height="2.00" fill="#90cc58"/><rect x="484.00" y="287.00" width="3.00" height="1.00" fill="#90cc58"/><rect x="487.00" y="265.00" width="4.00" height="2.00" fill="#deeac6"/><rect x="487.00" y="283.00" width="4.00" height="2.00" fill="#deeac6"/><rect x="487.00" y="285.00" width="4.00" height="2.00" fill="#90cc58"/><rect x="487.00" y="287.00" width="4.00" height="1.00" fill="#90cc58"/><rect x="491.00" y="267.00" width="3.00" height="2.00" fill="#e9f1db"/><rect x="491.00" y="279.00" width="3.00" height="2.00" fill="#deeac6"/><rect x="491.00" y="281.00" width="3.00" height="2.00" fill="#deeac6"/><rect x="491.00" y="283.00" width="3.00" height="2.00" fill="#90cc58"/><rect x="491.00" y="285.00" width="3.00" height="2.00" fill="#deeac6"/><rect x="494.00" y="267.00" width="4.00" height="2.00" fill="#e9f1db"/><rect x="494.00" y="279.00" width="4.00" height="2.00" fill="#deeac6"/><rect x="494.00" y="281.00" width="4.00" height="2.00" fill="#deeac6"/><rect x="494.00" y="283.00" width="4.00" height="2.00" fill="#90cc58"/><rect x="494.00" y="285.00" width="4.00" height="2.00" fill="#deeac6"/><rect x="498.00" y="267.00" width="3.00" height="2.00" fill="#e9f1db"/><rect x="498.00" y="279.00" width="3.00" height="2.00" fill="#deeac6"/><rect x="498.00" y="281.00" width="3.00" height="2.00" fill="#deeac6"/><rect x="498.00" y="283.00" width="3.00" height="2.00" fill="#90cc58"/><rect x="498.00" y="285.00" width="3.00" height="2.00" fill="#deeac6"/><rect x="501.00" y="267.00" width="4.00" height="2.00" fill="#e9f1db"/><rect x="501.00" y="279.00" width="4.00" height="2.00" fill="#deeac6"/><rect x="501.00" y="281.00" width="4.00" height="2.00" fill="#deeac6"/><rect x="501.00" y="283.00" width="4.00" height="2.00" fill="#90cc58"/><rect x="501.00" y="285.00" width="4.00" height="2.00" fill="#deeac6"/><rect x="505.00" y="267.00" width="3.00" height="2.00" fill="#90cc58"/><rect x="505.00" y="269.00" width="3.00" height="2.00" fill="#90cc58"/><rect x="505.00" y="271.00" width="3.00" height="2.00" fill="#deeac6"/><rect x="505.00" y="273.00" width="3.00" height="2.00" fill="#deeac6"/><rect x="508.00" y="267.00" width="3.00" height="2.00" fill="#90cc58"/><rect x="508.00" y="269.00" width="3.00" height="2.00" fill="#90cc58"/><rect x="508.00" y="271.00" width="3.00" height="2.00" fill="#deeac6"/><rect x="508.00" y="273.00" width="3.00" height="2.00" fill="#deeac6"/><rect x="511.00" y="267.00" width="4.00" height="2.00" fill="#90cc58"/><rect x="511.00" y="269.00" width="4.00" height="2.00" fill="#90cc58"/><rect x="511.00" y="271.00" width="4.00" height="2.00" fill="#deeac6"/><rect x="511.00" y="273.00" width="4.00" height="2.00" fill="#deeac6"/><rect x="515.00" y="267.00" width="3.00" height="2.00" fill="#90cc58"/><rect x="515.00" y="269.00" width="3.00" height="2.00" fill="#90cc58"/><rect x="515.00" y="271.00" width="3.00" height="2.00" fill="#deeac6"/><rect x="515.00" y="273.00" width="3.00" height="2.00" fill="#deeac6"/><rect x="518.00" y="267.00" width="4.00" height="2.00" fill="#90cc58"/><rect x="518.00" y="269.00" width="4.00" height="2.00" fill="#90cc58"/><rect x="518.00" y="271.00" width="4.00" height="2.00" fill="#deeac6"/><rect x="518.00" y="273.00" width="4.00" height="2.00" fill="#deeac6"/><rect x="345.00" y="212.00" width="4.00" height="2.00" fill="#deeac6"/><rect x="345.00" y="214.00" width="4.00" height="2.00" fill="#deeac6"/><rect x="349.00" y="212.00" width="3.00" height="2.00" fill="#deeac6"/><rect x="349.00" y="216.00" width="3.00" height="1.00" fill="#deeac6"/><rect x="352.00" y="223.00" width="3.00" height="2.00" fill="#deeac6"/><rect x="359.00" y="223.00" width="3.00" height="2.00" fill="#deeac6"/><rect x="359.00" y="227.00" width="3.00" height="2.00" fill="#deeac6"/><rect x="362.00" y="223.00" width="4.00" height="2.00" fill="#deeac6"/><rect x="362.00" y="227.00" width="4.00" height="2.00" fill="#deeac6"/><rect x="362.00" y="242.00" width="4.00" height="2.00" fill="#deeac6"/><rect x="366.00" y="223.00" width="3.00" height="2.00" fill="#deeac6"/><rect x="366.00" y="227.00" width="3.00" height="2.00" fill="#deeac6"/><rect x="366.00" y="237.00" width="3.00" height="2.00" fill="#deeac6"/><rect x="366.00" y="242.00" width="3.00" height="2.00" fill="#deeac6"/><rect x="369.00" y="223.00" width="4.00" height="2.00" fill="#deeac6"/><rect x="369.00" y="227.00" width="4.00" height="2.00" fill="#deeac6"/><rect x="369.00" y="237.00" width="4.00" height="2.00" fill="#deeac6"/><rect x="369.00" y="242.00" width="4.00" height="2.00" fill="#deeac6"/><rect x="373.00" y="219.00" width="3.00" height="2.00" fill="#e9f1db"/><rect x="373.00" y="223.00" width="3.00" height="2.00" fill="#deeac6"/><rect x="373.00" y="233.00" width="3.00" height="2.00" fill="#deeac6"/><rect x="373.00" y="237.00" width="3.00" height="2.00" fill="#deeac6"/><rect x="373.00" y="242.00" width="3.00" height="2.00" fill="#deeac6"/><rect x="376.00" y="219.00" width="4.00" height="2.00" fill="#e9f1db"/><rect x="376.00" y="233.00" width="4.00" height="2.00" fill="#deeac6"/><rect x="376.00" y="242.00" width="4.00" height="2.00" fill="#deeac6"/><rect x="376.00" y="244.00" width="4.00" height="2.00" fill="#90cc58"/><rect x="380.00" y="233.00" width="3.00" height="2.00" fill="#deeac6"/><rect x="380.00" y="237.00" width="3.00" height="2.00" fill="#deeac6"/><rect x="380.00" y="242.00" width="3.00" height="2.00" fill="#deeac6"/><rect x="380.00" y="244.00" width="3.00" height="2.00" fill="#deeac6"/><rect x="380.00" y="246.00" width="3.00" height="2.00" fill="#deeac6"/><rect x="383.00" y="242.00" width="4.00" height="2.00" fill="#deeac6"/><rect x="383.00" y="244.00" width="4.00" height="2.00" fill="#90cc58"/><rect x="387.00" y="233.00" width="3.00" height="2.00" fill="#e9f1db"/><rect x="387.00" y="242.00" width="3.00" height="2.00" fill="#deeac6"/><rect x="387.00" y="246.00" width="3.00" height="2.00" fill="#90cc58"/><rect x="390.00" y="233.00" width="4.00" height="2.00" fill="#e9f1db"/><rect x="390.00" y="242.00" width="4.00" height="2.00" fill="#deeac6"/><rect x="390.00" y="246.00" width="4.00" height="2.00" fill="#deeac6"/><rect x="394.00" y="242.00" width="3.00" height="2.00" fill="#deeac6"/><rect x="123.00" y="206.00" width="4.00" height="2.00" fill="#90cc58"/><rect x="123.00" y="208.00" width="4.00" height="2.00" fill="#20958a"/><rect x="123.00" y="210.00" width="4.00" height="2.00" fill="#32658d"/><rect x="123.00" y="212.00" width="4.00" height="2.00" fill="#90cc58"/><rect x="123.00" y="214.00" width="4.00" height="2.00" fill="#deeac6"/><rect x="123.00" y="216.00" width="4.00" height="1.00" fill="#90cc58"/><rect x="123.00" y="217.00" width="4.00" height="2.00" fill="#32658d"/><rect x="123.00" y="219.00" width="4.00" height="2.00" fill="#5cc463"/><rect x="123.00" y="221.00" width="4.00" height="2.00" fill="#deeac6"/><rect x="127.00" y="206.00" width="3.00" height="2.00" fill="#5cc463"/><rect x="127.00" y="208.00" width="3.00" height="2.00" fill="#20958a"/><rect x="127.00" y="210.00" width="3.00" height="2.00" fill="#32658d"/><rect x="127.00" y="212.00" width="3.00" height="2.00" fill="#90cc58"/><rect x="127.00" y="216.00" width="3.00" height="1.00" fill="#90cc58"/><rect x="127.00" y="217.00" width="3.00" height="2.00" fill="#32658d"/><rect x="127.00" y="219.00" width="3.00" height="2.00" fill="#20958a"/><rect x="127.00" y="221.00" width="3.00" height="2.00" fill="#90cc58"/><rect x="130.00" y="206.00" width="4.00" height="2.00" fill="#90cc58"/><rect x="130.00" y="208.00" width="4.00" height="2.00" fill="#20958a"/><rect x="130.00" y="210.00" width="4.00" height="2.00" fill="#32658d"/><rect x="130.00" y="212.00" width="4.00" height="2.00" fill="#5cc463"/><rect x="130.00" y="214.00" width="4.00" height="2.00" fill="#deeac6"/><rect x="130.00" y="216.00" width="4.00" height="1.00" fill="#90cc58"/><rect x="130.00" y="217.00" width="4.00" height="2.00" fill="#20958a"/><rect x="130.00" y="219.00" width="4.00" height="2.00" fill="#5cc463"/><rect x="130.00" y="221.00" width="4.00" height="2.00" fill="#20958a"/><rect x="134.00" y="206.00" width="3.00" height="2.00" fill="#deeac6"/><rect x="134.00" y="208.00" width="3.00" height="2.00" fill="#32658d"/><rect x="134.00" y="210.00" width="3.00" height="2.00" fill="#20958a"/><rect x="134.00" y="212.00" width="3.00" height="2.00" fill="#90cc58"/><rect x="134.00" y="214.00" width="3.00" height="2.00" fill="#deeac6"/><rect x="134.00" y="216.00" width="3.00" height="1.00" fill="#5cc463"/><rect x="134.00" y="217.00" width="3.00" height="2.00" fill="#20958a"/><rect x="134.00" y="219.00" width="3.00" height="2.00" fill="#20958a"/><rect x="134.00" y="221.00" width="3.00" height="2.00" fill="#deeac6"/><rect x="137.00" y="206.00" width="3.00" height="2.00" fill="#90cc58"/><rect x="137.00" y="208.00" width="3.00" height="2.00" fill="#20958a"/><rect x="137.00" y="210.00" width="3.00" height="2.00" fill="#471a6b"/><rect x="137.00" y="212.00" width="3.00" height="2.00" fill="#90cc58"/><rect x="137.00" y="214.00" width="3.00" height="2.00" fill="#deeac6"/><rect x="137.00" y="216.00" width="3.00" height="1.00" fill="#5cc463"/><rect x="137.00" y="217.00" width="3.00" height="2.00" fill="#20958a"/><rect x="137.00" y="219.00" width="3.00" height="2.00" fill="#32658d"/><rect x="137.00" y="221.00" width="3.00" height="2.00" fill="#deeac6"/><rect x="140.00" y="208.00" width="4.00" height="2.00" fill="#5cc463"/><rect x="140.00" y="210.00" width="4.00" height="2.00" fill="#471a6b"/><rect x="140.00" y="212.00" width="4.00" height="2.00" fill="#5cc463"/><rect x="140.00" y="214.00" width="4.00" height="2.00" fill="#deeac6"/><rect x="140.00" y="216.00" width="4.00" height="1.00" fill="#90cc58"/><rect x="140.00" y="217.00" width="4.00" height="2.00" fill="#20958a"/><rect x="140.00" y="219.00" width="4.00" height="2.00" fill="#20958a"/><rect x="140.00" y="221.00" width="4.00" height="2.00" fill="#32658d"/><rect x="144.00" y="208.00" width="3.00" height="2.00" fill="#5cc463"/><rect x="144.00" y="210.00" width="3.00" height="2.00" fill="#471a6b"/><rect x="144.00" y="212.00" width="3.00" height="2.00" fill="#5cc463"/><rect x="144.00" y="214.00" width="3.00" height="2.00" fill="#deeac6"/><rect x="144.00" y="216.00" width="3.00" height="1.00" fill="#90cc58"/><rect x="144.00" y="217.00" width="3.00" height="2.00" fill="#20958a"/><rect x="144.00" y="219.00" width="3.00" height="2.00" fill="#5cc463"/><rect x="144.00" y="221.00" width="3.00" height="2.00" fill="#32658d"/><rect x="147.00" y="208.00" width="4.00" height="2.00" fill="#90cc58"/><rect x="147.00" y="210.00" width="4.00" height="2.00" fill="#471a6b"/><rect x="147.00" y="212.00" width="4.00" height="2.00" fill="#5cc463"/><rect x="147.00" y="214.00" width="4.00" height="2.00" fill="#deeac6"/><rect x="147.00" y="216.00" width="4.00" height="1.00" fill="#5cc463"/><rect x="147.00" y="217.00" width="4.00" height="2.00" fill="#20958a"/><rect x="147.00" y="219.00" width="4.00" height="2.00" fill="#5cc463"/><rect x="147.00" y="221.00" width="4.00" height="2.00" fill="#32658d"/><rect x="151.00" y="206.00" width="3.00" height="2.00" fill="#5cc463"/><rect x="151.00" y="208.00" width="3.00" height="2.00" fill="#20958a"/><rect x="151.00" y="210.00" width="3.00" height="2.00" fill="#471a6b"/><rect x="151.00" y="212.00" width="3.00" height="2.00" fill="#5cc463"/><rect x="151.00" y="214.00" width="3.00" height="2.00" fill="#deeac6"/><rect x="151.00" y="216.00" width="3.00" height="1.00" fill="#5cc463"/><rect x="151.00" y="217.00" width="3.00" height="2.00" fill="#32658d"/><rect x="151.00" y="219.00" width="3.00" height="2.00" fill="#90cc58"/><rect x="151.00" y="221.00" width="3.00" height="2.00" fill="#20958a"/><rect x="154.00" y="206.00" width="4.00" height="2.00" fill="#90cc58"/><rect x="154.00" y="208.00" width="4.00" height="2.00" fill="#20958a"/><rect x="154.00" y="210.00" width="4.00" height="2.00" fill="#32658d"/><rect x="154.00" y="212.00" width="4.00" height="2.00" fill="#5cc463"/><rect x="154.00" y="214.00" width="4.00" height="2.00" fill="#deeac6"/><rect x="154.00" y="216.00" width="4.00" height="1.00" fill="#90cc58"/><rect x="154.00" y="217.00" width="4.00" height="2.00" fill="#20958a"/><rect x="154.00" y="219.00" width="4.00" height="2.00" fill="#5cc463"/><rect x="154.00" y="221.00" width="4.00" height="2.00" fill="#20958a"/><rect x="158.00" y="204.00" width="3.00" height="2.00" fill="#90cc58"/><rect x="158.00" y="206.00" width="3.00" height="2.00" fill="#5cc463"/><rect x="158.00" y="208.00" width="3.00" height="2.00" fill="#32658d"/><rect x="158.00" y="210.00" width="3.00" height="2.00" fill="#20958a"/><rect x="158.00" y="212.00" width="3.00" height="2.00" fill="#90cc58"/><rect x="158.00" y="214.00" width="3.00" height="2.00" fill="#deeac6"/><rect x="158.00" y="216.00" width="3.00" height="1.00" fill="#5cc463"/><rect x="158.00" y="217.00" width="3.00" height="2.00" fill="#20958a"/><rect x="158.00" y="219.00" width="3.00" height="2.00" fill="#90cc58"/><rect x="158.00" y="221.00" width="3.00" height="2.00" fill="#20958a"/><rect x="161.00" y="202.00" width="4.00" height="2.00" fill="#90cc58"/><rect x="161.00" y="204.00" width="4.00" height="2.00" fill="#5cc463"/><rect x="161.00" y="206.00" width="4.00" height="2.00" fill="#20958a"/><rect x="161.00" y="208.00" width="4.00" height="2.00" fill="#20958a"/><rect x="161.00" y="210.00" width="4.00" height="2.00" fill="#90cc58"/><rect x="161.00" y="212.00" width="4.00" height="2.00" fill="#deeac6"/><rect x="161.00" y="214.00" width="4.00" height="2.00" fill="#deeac6"/><rect x="161.00" y="216.00" width="4.00" height="1.00" fill="#5cc463"/><rect x="161.00" y="217.00" width="4.00" height="2.00" fill="#20958a"/><rect x="161.00" y="219.00" width="4.00" height="2.00" fill="#90cc58"/><rect x="165.00" y="202.00" width="3.00" height="2.00" fill="#20958a"/><rect x="165.00" y="204.00" width="3.00" height="2.00" fill="#20958a"/><rect x="165.00" y="206.00" width="3.00" height="2.00" fill="#32658d"/><rect x="165.00" y="208.00" width="3.00" height="2.00" fill="#90cc58"/><rect x="165.00" y="210.00" width="3.00" height="2.00" fill="#deeac6"/><rect x="165.00" y="212.00" width="3.00" height="2.00" fill="#deeac6"/><rect x="165.00" y="214.00" width="3.00" height="2.00" fill="#90cc58"/><rect x="165.00" y="216.00" width="3.00" height="1.00" fill="#32658d"/><rect x="165.00" y="217.00" width="3.00" height="2.00" fill="#20958a"/><rect x="168.00" y="202.00" width="4.00" height="2.00" fill="#20958a"/><rect x="168.00" y="204.00" width="4.00" height="2.00" fill="#32658d"/><rect x="168.00" y="206.00" width="4.00" height="2.00" fill="#90cc58"/><rect x="168.00" y="208.00" width="4.00" height="2.00" fill="#deeac6"/><rect x="168.00" y="210.00" width="4.00" height="2.00" fill="#deeac6"/><rect x="168.00" y="212.00" width="4.00" height="2.00" fill="#90cc58"/><rect x="168.00" y="214.00" width="4.00" height="2.00" fill="#20958a"/><rect x="168.00" y="216.00" width="4.00" height="1.00" fill="#471a6b"/><rect x="168.00" y="217.00" width="4.00" height="2.00" fill="#deeac6"/><rect x="172.00" y="202.00" width="3.00" height="2.00" fill="#20958a"/><rect x="172.00" y="204.00" width="3.00" height="2.00" fill="#5cc463"/><rect x="172.00" y="206.00" width="3.00" height="2.00" fill="#deeac6"/><rect x="172.00" y="208.00" width="3.00" height="2.00" fill="#deeac6"/><rect x="172.00" y="210.00" width="3.00" height="2.00" fill="#90cc58"/><rect x="172.00" y="212.00" width="3.00" height="2.00" fill="#90cc58"/><rect x="172.00" y="214.00" width="3.00" height="2.00" fill="#20958a"/><rect x="172.00" y="216.00" width="3.00" height="1.00" fill="#5cc463"/><rect x="175.00" y="202.00" width="4.00" height="2.00" fill="#90cc58"/><rect x="175.00" y="204.00" width="4.00" height="2.00" fill="#deeac6"/><rect x="175.00" y="206.00" width="4.00" height="2.00" fill="#deeac6"/><rect x="175.00" y="208.00" width="4.00" height="2.00" fill="#deeac6"/><rect x="175.00" y="210.00" width="4.00" height="2.00" fill="#90cc58"/><rect x="175.00" y="212.00" width="4.00" height="2.00" fill="#90cc58"/><rect x="175.00" y="214.00" width="4.00" height="2.00" fill="#20958a"/><rect x="179.00" y="192.00" width="3.00" height="2.00" fill="#deeac6"/><rect x="179.00" y="194.00" width="3.00" height="2.00" fill="#5cc463"/><rect x="179.00" y="196.00" width="3.00" height="2.00" fill="#20958a"/><rect x="179.00" y="198.00" width="3.00" height="2.00" fill="#deeac6"/><rect x="179.00" y="200.00" width="3.00" height="2.00" fill="#90cc58"/><rect x="179.00" y="202.00" width="3.00" height="2.00" fill="#20958a"/><rect x="179.00" y="204.00" width="3.00" height="2.00" fill="#5cc463"/><rect x="179.00" y="206.00" width="3.00" height="2.00" fill="#deeac6"/><rect x="179.00" y="208.00" width="3.00" height="2.00" fill="#deeac6"/><rect x="179.00" y="210.00" width="3.00" height="2.00" fill="#90cc58"/><rect x="179.00" y="212.00" width="3.00" height="2.00" fill="#deeac6"/><rect x="179.00" y="214.00" width="3.00" height="2.00" fill="#20958a"/><rect x="179.00" y="216.00" width="3.00" height="1.00" fill="#32658d"/><rect x="179.00" y="217.00" width="3.00" height="2.00" fill="#90cc58"/><rect x="182.00" y="191.00" width="4.00" height="1.00" fill="#deeac6"/><rect x="182.00" y="192.00" width="4.00" height="2.00" fill="#deeac6"/><rect x="182.00" y="194.00" width="4.00" height="2.00" fill="#90cc58"/><rect x="182.00" y="196.00" width="4.00" height="2.00" fill="#20958a"/><rect x="182.00" y="200.00" width="4.00" height="2.00" fill="#90cc58"/><rect x="182.00" y="202.00" width="4.00" height="2.00" fill="#5cc463"/><rect x="182.00" y="204.00" width="4.00" height="2.00" fill="#5cc463"/><rect x="182.00" y="206.00" width="4.00" height="2.00" fill="#deeac6"/><rect x="182.00" y="208.00" width="4.00" height="2.00" fill="#deeac6"/><rect x="182.00" y="210.00" width="4.00" height="2.00" fill="#deeac6"/><rect x="182.00" y="212.00" width="4.00" height="2.00" fill="#deeac6"/><rect x="182.00" y="214.00" width="4.00" height="2.00" fill="#20958a"/><rect x="182.00" y="216.00" width="4.00" height="1.00" fill="#20958a"/><rect x="182.00" y="217.00" width="4.00" height="2.00" fill="#deeac6"/><rect x="186.00" y="191.00" width="3.00" height="1.00" fill="#deeac6"/><rect x="186.00" y="194.00" width="3.00" height="2.00" fill="#5cc463"/><rect x="186.00" y="196.00" width="3.00" height="2.00" fill="#20958a"/><rect x="186.00" y="198.00" width="3.00" height="2.00" fill="#5cc463"/><rect x="186.00" y="200.00" width="3.00" height="2.00" fill="#deeac6"/><rect x="186.00" y="202.00" width="3.00" height="2.00" fill="#deeac6"/><rect x="186.00" y="204.00" width="3.00" height="2.00" fill="#5cc463"/><rect x="186.00" y="208.00" width="3.00" height="2.00" fill="#deeac6"/><rect x="186.00" y="212.00" width="3.00" height="2.00" fill="#90cc58"/><rect x="186.00" y="214.00" width="3.00" height="2.00" fill="#5cc463"/><rect x="186.00" y="216.00" width="3.00" height="1.00" fill="#20958a"/><rect x="186.00" y="217.00" width="3.00" height="2.00" fill="#deeac6"/><rect x="189.00" y="191.00" width="3.00" height="1.00" fill="#deeac6"/><rect x="189.00" y="192.00" width="3.00" height="2.00" fill="#90cc58"/><rect x="189.00" y="194.00" width="3.00" height="2.00" fill="#20958a"/><rect x="189.00" y="196.00" width="3.00" height="2.00" fill="#20958a"/><rect x="189.00" y="198.00" width="3.00" height="2.00" fill="#90cc58"/><rect x="189.00" y="200.00" width="3.00" height="2.00" fill="#deeac6"/><rect x="189.00" y="202.00" width="3.00" height="2.00" fill="#90cc58"/><rect x="189.00" y="204.00" width="3.00" height="2.00" fill="#5cc463"/><rect x="189.00" y="208.00" width="3.00" height="2.00" fill="#deeac6"/><rect x="189.00" y="212.00" width="3.00" height="2.00" fill="#90cc58"/><rect x="189.00" y="214.00" width="3.00" height="2.00" fill="#32658d"/><rect x="189.00" y="216.00" width="3.00" height="1.00" fill="#20958a"/><rect x="189.00" y="217.00" width="3.00" height="2.00" fill="#deeac6"/><rect x="192.00" y="192.00" width="4.00" height="2.00" fill="#90cc58"/><rect x="192.00" y="194.00" width="4.00" height="2.00" fill="#20958a"/><rect x="192.00" y="196.00" width="4.00" height="2.00" fill="#20958a"/><rect x="192.00" y="198.00" width="4.00" height="2.00" fill="#5cc463"/><rect x="192.00" y="200.00" width="4.00" height="2.00" fill="#deeac6"/><rect x="192.00" y="202.00" width="4.00" height="2.00" fill="#deeac6"/><rect x="192.00" y="204.00" width="4.00" height="2.00" fill="#5cc463"/><rect x="192.00" y="208.00" width="4.00" height="2.00" fill="#deeac6"/><rect x="192.00" y="210.00" width="4.00" height="2.00" fill="#90cc58"/><rect x="192.00" y="212.00" width="4.00" height="2.00" fill="#5cc463"/><rect x="192.00" y="214.00" width="4.00" height="2.00" fill="#20958a"/><rect x="192.00" y="216.00" width="4.00" height="1.00" fill="#5cc463"/><rect x="192.00" y="217.00" width="4.00" height="2.00" fill="#deeac6"/><rect x="196.00" y="189.00" width="3.00" height="2.00" fill="#deeac6"/><rect x="196.00" y="191.00" width="3.00" height="1.00" fill="#90cc58"/><rect x="196.00" y="194.00" width="3.00" height="2.00" fill="#20958a"/><rect x="196.00" y="198.00" width="3.00" height="2.00" fill="#deeac6"/><rect x="196.00" y="200.00" width="3.00" height="2.00" fill="#90cc58"/><rect x="196.00" y="202.00" width="3.00" height="2.00" fill="#5cc463"/><rect x="196.00" y="210.00" width="3.00" height="2.00" fill="#90cc58"/><rect x="196.00" y="212.00" width="3.00" height="2.00" fill="#5cc463"/><rect x="196.00" y="214.00" width="3.00" height="2.00" fill="#20958a"/><rect x="196.00" y="216.00" width="3.00" height="1.00" fill="#5cc463"/><rect x="196.00" y="217.00" width="3.00" height="2.00" fill="#deeac6"/><rect x="199.00" y="187.00" width="4.00" height="2.00" fill="#deeac6"/><rect x="199.00" y="191.00" width="4.00" height="1.00" fill="#90cc58"/><rect x="199.00" y="192.00" width="4.00" height="2.00" fill="#20958a"/><rect x="199.00" y="194.00" width="4.00" height="2.00" fill="#5cc463"/><rect x="199.00" y="196.00" width="4.00" height="2.00" fill="#90cc58"/><rect x="199.00" y="198.00" width="4.00" height="2.00" fill="#deeac6"/><rect x="199.00" y="202.00" width="4.00" height="2.00" fill="#deeac6"/><rect x="199.00" y="204.00" width="4.00" height="2.00" fill="#5cc463"/><rect x="199.00" y="210.00" width="4.00" height="2.00" fill="#deeac6"/><rect x="199.00" y="212.00" width="4.00" height="2.00" fill="#5cc463"/><rect x="199.00" y="214.00" width="4.00" height="2.00" fill="#20958a"/><rect x="199.00" y="216.00" width="4.00" height="1.00" fill="#5cc463"/><rect x="199.00" y="217.00" width="4.00" height="2.00" fill="#deeac6"/><rect x="203.00" y="187.00" width="3.00" height="2.00" fill="#deeac6"/><rect x="203.00" y="189.00" width="3.00" height="2.00" fill="#deeac6"/><rect x="203.00" y="191.00" width="3.00" height="1.00" fill="#5cc463"/><rect x="203.00" y="192.00" width="3.00" height="2.00" fill="#20958a"/><rect x="203.00" y="196.00" width="3.00" height="2.00" fill="#deeac6"/><rect x="203.00" y="198.00" width="3.00" height="2.00" fill="#deeac6"/><rect x="203.00" y="200.00" width="3.00" height="2.00" fill="#5cc463"/><rect x="203.00" y="210.00" width="3.00" height="2.00" fill="#deeac6"/><rect x="203.00" y="212.00" width="3.00" height="2.00" fill="#90cc58"/><rect x="203.00" y="214.00" width="3.00" height="2.00" fill="#20958a"/><rect x="203.00" y="216.00" width="3.00" height="1.00" fill="#90cc58"/><rect x="206.00" y="187.00" width="4.00" height="2.00" fill="#deeac6"/><rect x="206.00" y="191.00" width="4.00" height="1.00" fill="#5cc463"/><rect x="206.00" y="194.00" width="4.00" height="2.00" fill="#deeac6"/><rect x="206.00" y="196.00" width="4.00" height="2.00" fill="#90cc58"/><rect x="206.00" y="200.00" width="4.00" height="2.00" fill="#5cc463"/><rect x="206.00" y="210.00" width="4.00" height="2.00" fill="#90cc58"/><rect x="206.00" y="212.00" width="4.00" height="2.00" fill="#5cc463"/><rect x="206.00" y="214.00" width="4.00" height="2.00" fill="#20958a"/><rect x="206.00" y="216.00" width="4.00" height="1.00" fill="#5cc463"/><rect x="206.00" y="217.00" width="4.00" height="2.00" fill="#deeac6"/><rect x="210.00" y="185.00" width="3.00" height="2.00" fill="#deeac6"/><rect x="210.00" y="187.00" width="3.00" height="2.00" fill="#deeac6"/><rect x="210.00" y="189.00" width="3.00" height="2.00" fill="#90cc58"/><rect x="210.00" y="191.00" width="3.00" height="1.00" fill="#5cc463"/><rect x="210.00" y="192.00" width="3.00" height="2.00" fill="#90cc58"/><rect x="210.00" y="196.00" width="3.00" height="2.00" fill="#deeac6"/><rect x="210.00" y="198.00" width="3.00" height="2.00" fill="#deeac6"/><rect x="210.00" y="200.00" width="3.00" height="2.00" fill="#5cc463"/><rect x="210.00" y="202.00" width="3.00" height="2.00" fill="#5cc463"/><rect x="210.00" y="206.00" width="3.00" height="2.00" fill="#deeac6"/><rect x="210.00" y="208.00" width="3.00" height="2.00" fill="#deeac6"/><rect x="210.00" y="210.00" width="3.00" height="2.00" fill="#90cc58"/><rect x="210.00" y="212.00" width="3.00" height="2.00" fill="#20958a"/><rect x="210.00" y="214.00" width="3.00" height="2.00" fill="#20958a"/><rect x="210.00" y="216.00" width="3.00" height="1.00" fill="#90cc58"/><rect x="213.00" y="185.00" width="4.00" height="2.00" fill="#deeac6"/><rect x="213.00" y="189.00" width="4.00" height="2.00" fill="#5cc463"/><rect x="213.00" y="191.00" width="4.00" height="1.00" fill="#deeac6"/><rect x="213.00" y="192.00" width="4.00" height="2.00" fill="#deeac6"/><rect x="213.00" y="204.00" width="4.00" height="2.00" fill="#deeac6"/><rect x="213.00" y="208.00" width="4.00" height="2.00" fill="#90cc58"/><rect x="213.00" y="210.00" width="4.00" height="2.00" fill="#5cc463"/><rect x="213.00" y="212.00" width="4.00" height="2.00" fill="#20958a"/><rect x="213.00" y="214.00" width="4.00" height="2.00" fill="#5cc463"/><rect x="213.00" y="216.00" width="4.00" height="1.00" fill="#deeac6"/><rect x="217.00" y="187.00" width="3.00" height="2.00" fill="#90cc58"/><rect x="217.00" y="189.00" width="3.00" height="2.00" fill="#5cc463"/><rect x="217.00" y="191.00" width="3.00" height="1.00" fill="#deeac6"/><rect x="217.00" y="192.00" width="3.00" height="2.00" fill="#90cc58"/><rect x="217.00" y="194.00" width="3.00" height="2.00" fill="#deeac6"/><rect x="217.00" y="196.00" width="3.00" height="2.00" fill="#deeac6"/><rect x="217.00" y="198.00" width="3.00" height="2.00" fill="#deeac6"/><rect x="217.00" y="202.00" width="3.00" height="2.00" fill="#deeac6"/><rect x="217.00" y="206.00" width="3.00" height="2.00" fill="#deeac6"/><rect x="217.00" y="208.00" width="3.00" height="2.00" fill="#90cc58"/><rect x="217.00" y="210.00" width="3.00" height="2.00" fill="#20958a"/><rect x="217.00" y="212.00" width="3.00" height="2.00" fill="#20958a"/><rect x="217.00" y="214.00" width="3.00" height="2.00" fill="#5cc463"/><rect x="217.00" y="216.00" width="3.00" height="1.00" fill="#deeac6"/><rect x="220.00" y="187.00" width="4.00" height="2.00" fill="#deeac6"/><rect x="220.00" y="189.00" width="4.00" height="2.00" fill="#5cc463"/><rect x="220.00" y="191.00" width="4.00" height="1.00" fill="#90cc58"/><rect x="220.00" y="192.00" width="4.00" height="2.00" fill="#20958a"/><rect x="220.00" y="194.00" width="4.00" height="2.00" fill="#deeac6"/><rect x="220.00" y="198.00" width="4.00" height="2.00" fill="#deeac6"/><rect x="220.00" y="204.00" width="4.00" height="2.00" fill="#deeac6"/><rect x="220.00" y="208.00" width="4.00" height="2.00" fill="#90cc58"/><rect x="220.00" y="210.00" width="4.00" height="2.00" fill="#5cc463"/><rect x="220.00" y="212.00" width="4.00" height="2.00" fill="#20958a"/><rect x="220.00" y="214.00" width="4.00" height="2.00" fill="#90cc58"/><rect x="220.00" y="216.00" width="4.00" height="1.00" fill="#deeac6"/><rect x="224.00" y="187.00" width="3.00" height="2.00" fill="#deeac6"/><rect x="224.00" y="189.00" width="3.00" height="2.00" fill="#deeac6"/><rect x="224.00" y="191.00" width="3.00" height="1.00" fill="#5cc463"/><rect x="224.00" y="192.00" width="3.00" height="2.00" fill="#90cc58"/><rect x="224.00" y="194.00" width="3.00" height="2.00" fill="#deeac6"/><rect x="224.00" y="196.00" width="3.00" height="2.00" fill="#deeac6"/><rect x="224.00" y="200.00" width="3.00" height="2.00" fill="#deeac6"/><rect x="224.00" y="202.00" width="3.00" height="2.00" fill="#deeac6"/><rect x="224.00" y="208.00" width="3.00" height="2.00" fill="#20958a"/><rect x="224.00" y="210.00" width="3.00" height="2.00" fill="#90cc58"/><rect x="224.00" y="212.00" width="3.00" height="2.00" fill="#5cc463"/><rect x="224.00" y="214.00" width="3.00" height="2.00" fill="#deeac6"/><rect x="227.00" y="191.00" width="4.00" height="1.00" fill="#5cc463"/><rect x="227.00" y="192.00" width="4.00" height="2.00" fill="#90cc58"/><rect x="227.00" y="194.00" width="4.00" height="2.00" fill="#deeac6"/><rect x="227.00" y="196.00" width="4.00" height="2.00" fill="#90cc58"/><rect x="227.00" y="198.00" width="4.00" height="2.00" fill="#5cc463"/><rect x="227.00" y="200.00" width="4.00" height="2.00" fill="#deeac6"/><rect x="227.00" y="202.00" width="4.00" height="2.00" fill="#deeac6"/><rect x="227.00" y="204.00" width="4.00" height="2.00" fill="#deeac6"/><rect x="227.00" y="208.00" width="4.00" height="2.00" fill="#20958a"/><rect x="227.00" y="210.00" width="4.00" height="2.00" fill="#5cc463"/><rect x="227.00" y="212.00" width="4.00" height="2.00" fill="#20958a"/><rect x="227.00" y="214.00" width="4.00" height="2.00" fill="#90cc58"/><rect x="231.00" y="192.00" width="3.00" height="2.00" fill="#deeac6"/><rect x="231.00" y="198.00" width="3.00" height="2.00" fill="#90cc58"/><rect x="231.00" y="200.00" width="3.00" height="2.00" fill="#5cc463"/><rect x="231.00" y="202.00" width="3.00" height="2.00" fill="#deeac6"/><rect x="231.00" y="206.00" width="3.00" height="2.00" fill="#deeac6"/><rect x="231.00" y="208.00" width="3.00" height="2.00" fill="#20958a"/><rect x="231.00" y="210.00" width="3.00" height="2.00" fill="#20958a"/><rect x="231.00" y="212.00" width="3.00" height="2.00" fill="#90cc58"/><rect x="231.00" y="214.00" width="3.00" height="2.00" fill="#deeac6"/><rect x="234.00" y="196.00" width="4.00" height="2.00" fill="#deeac6"/><rect x="234.00" y="198.00" width="4.00" height="2.00" fill="#90cc58"/><rect x="234.00" y="200.00" width="4.00" height="2.00" fill="#deeac6"/><rect x="234.00" y="202.00" width="4.00" height="2.00" fill="#90cc58"/><rect x="234.00" y="204.00" width="4.00" height="2.00" fill="#deeac6"/><rect x="234.00" y="206.00" width="4.00" height="2.00" fill="#deeac6"/><rect x="234.00" y="208.00" width="4.00" height="2.00" fill="#32658d"/><rect x="234.00" y="210.00" width="4.00" height="2.00" fill="#20958a"/><rect x="234.00" y="212.00" width="4.00" height="2.00" fill="#deeac6"/><rect x="238.00" y="200.00" width="3.00" height="2.00" fill="#90cc58"/><rect x="238.00" y="202.00" width="3.00" height="2.00" fill="#5cc463"/><rect x="238.00" y="204.00" width="3.00" height="2.00" fill="#deeac6"/><rect x="238.00" y="206.00" width="3.00" height="2.00" fill="#5cc463"/><rect x="238.00" y="208.00" width="3.00" height="2.00" fill="#20958a"/><rect x="238.00" y="210.00" width="3.00" height="2.00" fill="#20958a"/><rect x="238.00" y="212.00" width="3.00" height="2.00" fill="#90cc58"/><rect x="241.00" y="204.00" width="3.00" height="2.00" fill="#20958a"/><rect x="241.00" y="206.00" width="3.00" height="2.00" fill="#471a6b"/><rect x="241.00" y="208.00" width="3.00" height="2.00" fill="#5cc463"/><rect x="241.00" y="210.00" width="3.00" height="2.00" fill="#20958a"/><rect x="241.00" y="212.00" width="3.00" height="2.00" fill="#5cc463"/><rect x="241.00" y="214.00" width="3.00" height="2.00" fill="#90cc58"/><rect x="244.00" y="204.00" width="4.00" height="2.00" fill="#90cc58"/><rect x="244.00" y="206.00" width="4.00" height="2.00" fill="#471a6b"/><rect x="244.00" y="208.00" width="4.00" height="2.00" fill="#5cc463"/><rect x="244.00" y="210.00" width="4.00" height="2.00" fill="#20958a"/><rect x="244.00" y="212.00" width="4.00" height="2.00" fill="#32658d"/><rect x="244.00" y="214.00" width="4.00" height="2.00" fill="#5cc463"/><rect x="248.00" y="202.00" width="3.00" height="2.00" fill="#90cc58"/><rect x="248.00" y="204.00" width="3.00" height="2.00" fill="#20958a"/><rect x="248.00" y="206.00" width="3.00" height="2.00" fill="#471a6b"/><rect x="248.00" y="208.00" width="3.00" height="2.00" fill="#5cc463"/><rect x="248.00" y="212.00" width="3.00" height="2.00" fill="#20958a"/><rect x="248.00" y="214.00" width="3.00" height="2.00" fill="#5cc463"/><rect x="251.00" y="204.00" width="4.00" height="2.00" fill="#20958a"/><rect x="251.00" y="206.00" width="4.00" height="2.00" fill="#32658d"/><rect x="251.00" y="208.00" width="4.00" height="2.00" fill="#5cc463"/><rect x="251.00" y="210.00" width="4.00" height="2.00" fill="#20958a"/><rect x="251.00" y="212.00" width="4.00" height="2.00" fill="#32658d"/><rect x="251.00" y="214.00" width="4.00" height="2.00" fill="#90cc58"/><rect x="255.00" y="202.00" width="3.00" height="2.00" fill="#20958a"/><rect x="255.00" y="204.00" width="3.00" height="2.00" fill="#5cc463"/><rect x="255.00" y="206.00" width="3.00" height="2.00" fill="#32658d"/><rect x="255.00" y="208.00" width="3.00" height="2.00" fill="#5cc463"/><rect x="255.00" y="210.00" width="3.00" height="2.00" fill="#471a6b"/><rect x="255.00" y="212.00" width="3.00" height="2.00" fill="#90cc58"/><rect x="258.00" y="200.00" width="4.00" height="2.00" fill="#5cc463"/><rect x="258.00" y="202.00" width="4.00" height="2.00" fill="#20958a"/><rect x="258.00" y="206.00" width="4.00" height="2.00" fill="#32658d"/><rect x="258.00" y="208.00" width="4.00" height="2.00" fill="#5cc463"/><rect x="258.00" y="210.00" width="4.00" height="2.00" fill="#471a6b"/><rect x="262.00" y="198.00" width="3.00" height="2.00" fill="#90cc58"/><rect x="262.00" y="200.00" width="3.00" height="2.00" fill="#5cc463"/><rect x="262.00" y="202.00" width="3.00" height="2.00" fill="#20958a"/><rect x="262.00" y="204.00" width="3.00" height="2.00" fill="#32658d"/><rect x="262.00" y="206.00" width="3.00" height="2.00" fill="#5cc463"/><rect x="262.00" y="208.00" width="3.00" height="2.00" fill="#32658d"/><rect x="265.00" y="196.00" width="4.00" height="2.00" fill="#90cc58"/><rect x="265.00" y="198.00" width="4.00" height="2.00" fill="#20958a"/><rect x="265.00" y="200.00" width="4.00" height="2.00" fill="#90cc58"/><rect x="265.00" y="202.00" width="4.00" height="2.00" fill="#20958a"/><rect x="265.00" y="204.00" width="4.00" height="2.00" fill="#5cc463"/><rect x="265.00" y="206.00" width="4.00" height="2.00" fill="#32658d"/><rect x="265.00" y="208.00" width="4.00" height="2.00" fill="#5cc463"/><rect x="269.00" y="194.00" width="3.00" height="2.00" fill="#90cc58"/><rect x="269.00" y="196.00" width="3.00" height="2.00" fill="#5cc463"/><rect x="269.00" y="198.00" width="3.00" height="2.00" fill="#90cc58"/><rect x="269.00" y="200.00" width="3.00" height="2.00" fill="#5cc463"/><rect x="269.00" y="202.00" width="3.00" height="2.00" fill="#5cc463"/><rect x="269.00" y="204.00" width="3.00" height="2.00" fill="#32658d"/><rect x="269.00" y="206.00" width="3.00" height="2.00" fill="#20958a"/><rect x="269.00" y="208.00" width="3.00" height="2.00" fill="#90cc58"/><rect x="272.00" y="194.00" width="4.00" height="2.00" fill="#90cc58"/><rect x="272.00" y="196.00" width="4.00" height="2.00" fill="#5cc463"/><rect x="272.00" y="198.00" width="4.00" height="2.00" fill="#deeac6"/><rect x="272.00" y="200.00" width="4.00" height="2.00" fill="#32658d"/><rect x="272.00" y="202.00" width="4.00" height="2.00" fill="#5cc463"/><rect x="272.00" y="204.00" width="4.00" height="2.00" fill="#471a6b"/><rect x="272.00" y="206.00" width="4.00" height="2.00" fill="#20958a"/><rect x="276.00" y="192.00" width="3.00" height="2.00" fill="#90cc58"/><rect x="276.00" y="194.00" width="3.00" height="2.00" fill="#5cc463"/><rect x="276.00" y="196.00" width="3.00" height="2.00" fill="#90cc58"/><rect x="276.00" y="198.00" width="3.00" height="2.00" fill="#20958a"/><rect x="276.00" y="200.00" width="3.00" height="2.00" fill="#5cc463"/><rect x="276.00" y="202.00" width="3.00" height="2.00" fill="#471a6b"/><rect x="276.00" y="204.00" width="3.00" height="2.00" fill="#20958a"/><rect x="279.00" y="191.00" width="4.00" height="1.00" fill="#5cc463"/><rect x="279.00" y="192.00" width="4.00" height="2.00" fill="#90cc58"/><rect x="279.00" y="194.00" width="4.00" height="2.00" fill="#5cc463"/><rect x="279.00" y="196.00" width="4.00" height="2.00" fill="#20958a"/><rect x="279.00" y="198.00" width="4.00" height="2.00" fill="#5cc463"/><rect x="279.00" y="200.00" width="4.00" height="2.00" fill="#471a6b"/><rect x="279.00" y="202.00" width="4.00" height="2.00" fill="#20958a"/><rect x="279.00" y="204.00" width="4.00" height="2.00" fill="#90cc58"/><rect x="283.00" y="189.00" width="3.00" height="2.00" fill="#20958a"/><rect x="283.00" y="191.00" width="3.00" height="1.00" fill="#5cc463"/><rect x="283.00" y="192.00" width="3.00" height="2.00" fill="#20958a"/><rect x="283.00" y="194.00" width="3.00" height="2.00" fill="#90cc58"/><rect x="283.00" y="196.00" width="3.00" height="2.00" fill="#5cc463"/><rect x="283.00" y="198.00" width="3.00" height="2.00" fill="#32658d"/><rect x="283.00" y="200.00" width="3.00" height="2.00" fill="#471a6b"/><rect x="283.00" y="202.00" width="3.00" height="2.00" fill="#90cc58"/><rect x="286.00" y="187.00" width="4.00" height="2.00" fill="#32658d"/><rect x="286.00" y="189.00" width="4.00" height="2.00" fill="#20958a"/><rect x="286.00" y="191.00" width="4.00" height="1.00" fill="#5cc463"/><rect x="286.00" y="192.00" width="4.00" height="2.00" fill="#90cc58"/><rect x="286.00" y="194.00" width="4.00" height="2.00" fill="#5cc463"/><rect x="286.00" y="196.00" width="4.00" height="2.00" fill="#20958a"/><rect x="286.00" y="198.00" width="4.00" height="2.00" fill="#20958a"/><rect x="290.00" y="185.00" width="3.00" height="2.00" fill="#32658d"/><rect x="290.00" y="187.00" width="3.00" height="2.00" fill="#20958a"/><rect x="290.00" y="189.00" width="3.00" height="2.00" fill="#90cc58"/><rect x="290.00" y="191.00" width="3.00" height="1.00" fill="#5cc463"/><rect x="290.00" y="192.00" width="3.00" height="2.00" fill="#5cc463"/><rect x="290.00" y="194.00" width="3.00" height="2.00" fill="#5cc463"/><rect x="290.00" y="196.00" width="3.00" height="2.00" fill="#20958a"/><rect x="290.00" y="198.00" width="3.00" height="2.00" fill="#20958a"/><rect x="293.00" y="183.00" width="4.00" height="2.00" fill="#20958a"/><rect x="293.00" y="185.00" width="4.00" height="2.00" fill="#20958a"/><rect x="293.00" y="187.00" width="4.00" height="2.00" fill="#90cc58"/><rect x="293.00" y="189.00" width="4.00" height="2.00" fill="#5cc463"/><rect x="293.00" y="191.00" width="4.00" height="1.00" fill="#5cc463"/><rect x="293.00" y="192.00" width="4.00" height="2.00" fill="#90cc58"/><rect x="293.00" y="194.00" width="4.00" height="2.00" fill="#5cc463"/><rect x="293.00" y="196.00" width="4.00" height="2.00" fill="#20958a"/><rect x="297.00" y="181.00" width="3.00" height="2.00" fill="#90cc58"/><rect x="297.00" y="183.00" width="3.00" height="2.00" fill="#32658d"/><rect x="297.00" y="185.00" width="3.00" height="2.00" fill="#5cc463"/><rect x="297.00" y="187.00" width="3.00" height="2.00" fill="#90cc58"/><rect x="297.00" y="189.00" width="3.00" height="2.00" fill="#5cc463"/><rect x="297.00" y="191.00" width="3.00" height="1.00" fill="#5cc463"/><rect x="297.00" y="192.00" width="3.00" height="2.00" fill="#20958a"/><rect x="297.00" y="194.00" width="3.00" height="2.00" fill="#20958a"/><rect x="300.00" y="181.00" width="3.00" height="2.00" fill="#deeac6"/><rect x="300.00" y="183.00" width="3.00" height="2.00" fill="#32658d"/><rect x="300.00" y="185.00" width="3.00" height="2.00" fill="#90cc58"/><rect x="300.00" y="187.00" width="3.00" height="2.00" fill="#90cc58"/><rect x="300.00" y="189.00" width="3.00" height="2.00" fill="#5cc463"/><rect x="300.00" y="191.00" width="3.00" height="1.00" fill="#5cc463"/><rect x="300.00" y="192.00" width="3.00" height="2.00" fill="#20958a"/><rect x="300.00" y="194.00" width="3.00" height="2.00" fill="#5cc463"/><rect x="300.00" y="196.00" width="3.00" height="2.00" fill="#90cc58"/><rect x="300.00" y="198.00" width="3.00" height="2.00" fill="#deeac6"/><rect x="303.00" y="181.00" width="4.00" height="2.00" fill="#deeac6"/><rect x="303.00" y="183.00" width="4.00" height="2.00" fill="#471a6b"/><rect x="303.00" y="185.00" width="4.00" height="2.00" fill="#90cc58"/><rect x="303.00" y="187.00" width="4.00" height="2.00" fill="#deeac6"/><rect x="303.00" y="189.00" width="4.00" height="2.00" fill="#5cc463"/><rect x="303.00" y="191.00" width="4.00" height="1.00" fill="#5cc463"/><rect x="303.00" y="192.00" width="4.00" height="2.00" fill="#20958a"/><rect x="303.00" y="194.00" width="4.00" height="2.00" fill="#20958a"/><rect x="303.00" y="196.00" width="4.00" height="2.00" fill="#20958a"/><rect x="303.00" y="198.00" width="4.00" height="2.00" fill="#deeac6"/><rect x="307.00" y="181.00" width="3.00" height="2.00" fill="#deeac6"/><rect x="307.00" y="183.00" width="3.00" height="2.00" fill="#32658d"/><rect x="307.00" y="185.00" width="3.00" height="2.00" fill="#5cc463"/><rect x="307.00" y="187.00" width="3.00" height="2.00" fill="#90cc58"/><rect x="307.00" y="189.00" width="3.00" height="2.00" fill="#5cc463"/><rect x="307.00" y="191.00" width="3.00" height="1.00" fill="#5cc463"/><rect x="307.00" y="192.00" width="3.00" height="2.00" fill="#20958a"/><rect x="307.00" y="194.00" width="3.00" height="2.00" fill="#90cc58"/><rect x="307.00" y="196.00" width="3.00" height="2.00" fill="#20958a"/><rect x="310.00" y="183.00" width="4.00" height="2.00" fill="#deeac6"/><rect x="310.00" y="185.00" width="4.00" height="2.00" fill="#471a6b"/><rect x="310.00" y="187.00" width="4.00" height="2.00" fill="#90cc58"/><rect x="310.00" y="189.00" width="4.00" height="2.00" fill="#90cc58"/><rect x="310.00" y="191.00" width="4.00" height="1.00" fill="#5cc463"/><rect x="310.00" y="192.00" width="4.00" height="2.00" fill="#20958a"/><rect x="310.00" y="194.00" width="4.00" height="2.00" fill="#20958a"/><rect x="310.00" y="196.00" width="4.00" height="2.00" fill="#5cc463"/><rect x="314.00" y="187.00" width="3.00" height="2.00" fill="#deeac6"/><rect x="314.00" y="189.00" width="3.00" height="2.00" fill="#32658d"/><rect x="314.00" y="191.00" width="3.00" height="1.00" fill="#5cc463"/><rect x="314.00" y="192.00" width="3.00" height="2.00" fill="#20958a"/><rect x="314.00" y="194.00" width="3.00" height="2.00" fill="#32658d"/><rect x="314.00" y="196.00" width="3.00" height="2.00" fill="#20958a"/><rect x="314.00" y="198.00" width="3.00" height="2.00" fill="#deeac6"/><rect x="317.00" y="191.00" width="4.00" height="1.00" fill="#20958a"/><rect x="317.00" y="192.00" width="4.00" height="2.00" fill="#20958a"/><rect x="317.00" y="194.00" width="4.00" height="2.00" fill="#5cc463"/><rect x="317.00" y="196.00" width="4.00" height="2.00" fill="#471a6b"/><rect x="317.00" y="198.00" width="4.00" height="2.00" fill="#5cc463"/><rect x="321.00" y="192.00" width="3.00" height="2.00" fill="#32658d"/><rect x="321.00" y="194.00" width="3.00" height="2.00" fill="#5cc463"/><rect x="321.00" y="196.00" width="3.00" height="2.00" fill="#471a6b"/><rect x="321.00" y="198.00" width="3.00" height="2.00" fill="#32658d"/><rect x="324.00" y="194.00" width="4.00" height="2.00" fill="#471a6b"/><rect x="324.00" y="196.00" width="4.00" height="2.00" fill="#471a6b"/><rect x="324.00" y="198.00" width="4.00" height="2.00" fill="#32658d"/><rect x="328.00" y="196.00" width="3.00" height="2.00" fill="#471a6b"/><rect x="328.00" y="198.00" width="3.00" height="2.00" fill="#471a6b"/><rect x="328.00" y="200.00" width="3.00" height="2.00" fill="#471a6b"/><rect x="331.00" y="198.00" width="4.00" height="2.00" fill="#20958a"/><rect x="331.00" y="200.00" width="4.00" height="2.00" fill="#5cc463"/><rect x="331.00" y="202.00" width="4.00" height="2.00" fill="#471a6b"/><rect x="331.00" y="204.00" width="4.00" height="2.00" fill="#deeac6"/><rect x="335.00" y="204.00" width="3.00" height="2.00" fill="#471a6b"/><rect x="335.00" y="206.00" width="3.00" height="2.00" fill="#471a6b"/><rect x="338.00" y="208.00" width="4.00" height="2.00" fill="#5cc463"/><rect x="338.00" y="210.00" width="4.00" height="2.00" fill="#32658d"/><rect x="338.00" y="212.00" width="4.00" height="2.00" fill="#32658d"/><rect x="338.00" y="214.00" width="4.00" height="2.00" fill="#5cc463"/><rect x="342.00" y="214.00" width="3.00" height="2.00" fill="#90cc58"/><rect x="342.00" y="216.00" width="3.00" height="1.00" fill="#471a6b"/><rect x="342.00" y="217.00" width="3.00" height="2.00" fill="#5cc463"/><rect x="345.00" y="216.00" width="4.00" height="1.00" fill="#deeac6"/><rect x="345.00" y="217.00" width="4.00" height="2.00" fill="#90cc58"/><rect x="345.00" y="219.00" width="4.00" height="2.00" fill="#471a6b"/><rect x="345.00" y="221.00" width="4.00" height="2.00" fill="#5cc463"/><rect x="345.00" y="223.00" width="4.00" height="2.00" fill="#90cc58"/><rect x="349.00" y="225.00" width="3.00" height="2.00" fill="#471a6b"/><rect x="349.00" y="227.00" width="3.00" height="2.00" fill="#471a6b"/><rect x="352.00" y="229.00" width="3.00" height="2.00" fill="#32658d"/><rect x="352.00" y="231.00" width="3.00" height="2.00" fill="#5cc463"/><rect x="352.00" y="233.00" width="3.00" height="2.00" fill="#20958a"/><rect x="352.00" y="235.00" width="3.00" height="2.00" fill="#20958a"/><rect x="355.00" y="237.00" width="4.00" height="2.00" fill="#90cc58"/><rect x="355.00" y="239.00" width="4.00" height="1.00" fill="#471a6b"/><rect x="355.00" y="240.00" width="4.00" height="2.00" fill="#90cc58"/><rect x="359.00" y="242.00" width="3.00" height="2.00" fill="#471a6b"/><rect x="359.00" y="244.00" width="3.00" height="2.00" fill="#471a6b"/><rect x="359.00" y="246.00" width="3.00" height="2.00" fill="#20958a"/><rect x="362.00" y="248.00" width="4.00" height="2.00" fill="#471a6b"/><rect x="362.00" y="250.00" width="4.00" height="2.00" fill="#471a6b"/><rect x="362.00" y="252.00" width="4.00" height="2.00" fill="#90cc58"/><rect x="366.00" y="250.00" width="3.00" height="2.00" fill="#471a6b"/><rect x="366.00" y="252.00" width="3.00" height="2.00" fill="#32658d"/><rect x="366.00" y="254.00" width="3.00" height="2.00" fill="#5cc463"/><rect x="369.00" y="250.00" width="4.00" height="2.00" fill="#471a6b"/><rect x="369.00" y="252.00" width="4.00" height="2.00" fill="#32658d"/><rect x="369.00" y="254.00" width="4.00" height="2.00" fill="#20958a"/><rect x="369.00" y="256.00" width="4.00" height="2.00" fill="#90cc58"/><rect x="373.00" y="250.00" width="3.00" height="2.00" fill="#32658d"/><rect x="373.00" y="252.00" width="3.00" height="2.00" fill="#471a6b"/><rect x="373.00" y="254.00" width="3.00" height="2.00" fill="#90cc58"/><rect x="373.00" y="256.00" width="3.00" height="2.00" fill="#deeac6"/><rect x="376.00" y="248.00" width="4.00" height="2.00" fill="#5cc463"/><rect x="376.00" y="250.00" width="4.00" height="2.00" fill="#5cc463"/><rect x="376.00" y="252.00" width="4.00" height="2.00" fill="#32658d"/><rect x="376.00" y="254.00" width="4.00" height="2.00" fill="#20958a"/><rect x="376.00" y="256.00" width="4.00" height="2.00" fill="#deeac6"/><rect x="380.00" y="250.00" width="3.00" height="2.00" fill="#32658d"/><rect x="380.00" y="252.00" width="3.00" height="2.00" fill="#20958a"/><rect x="380.00" y="254.00" width="3.00" height="2.00" fill="#5cc463"/><rect x="380.00" y="256.00" width="3.00" height="2.00" fill="#deeac6"/><rect x="383.00" y="250.00" width="4.00" height="2.00" fill="#20958a"/><rect x="383.00" y="252.00" width="4.00" height="2.00" fill="#20958a"/><rect x="383.00" y="254.00" width="4.00" height="2.00" fill="#5cc463"/><rect x="383.00" y="256.00" width="4.00" height="2.00" fill="#deeac6"/><rect x="383.00" y="258.00" width="4.00" height="2.00" fill="#deeac6"/><rect x="387.00" y="250.00" width="3.00" height="2.00" fill="#20958a"/><rect x="387.00" y="252.00" width="3.00" height="2.00" fill="#20958a"/><rect x="387.00" y="254.00" width="3.00" height="2.00" fill="#5cc463"/><rect x="387.00" y="258.00" width="3.00" height="2.00" fill="#deeac6"/><rect x="390.00" y="248.00" width="4.00" height="2.00" fill="#deeac6"/><rect x="390.00" y="250.00" width="4.00" height="2.00" fill="#20958a"/><rect x="390.00" y="252.00" width="4.00" height="2.00" fill="#20958a"/><rect x="390.00" y="254.00" width="4.00" height="2.00" fill="#5cc463"/><rect x="390.00" y="256.00" width="4.00" height="2.00" fill="#deeac6"/><rect x="394.00" y="248.00" width="3.00" height="2.00" fill="#5cc463"/><rect x="394.00" y="250.00" width="3.00" height="2.00" fill="#5cc463"/><rect x="394.00" y="252.00" width="3.00" height="2.00" fill="#32658d"/><rect x="394.00" y="254.00" width="3.00" height="2.00" fill="#5cc463"/><rect x="397.00" y="246.00" width="4.00" height="2.00" fill="#90cc58"/><rect x="397.00" y="248.00" width="4.00" height="2.00" fill="#5cc463"/><rect x="397.00" y="250.00" width="4.00" height="2.00" fill="#90cc58"/><rect x="397.00" y="252.00" width="4.00" height="2.00" fill="#20958a"/><rect x="397.00" y="254.00" width="4.00" height="2.00" fill="#5cc463"/><rect x="401.00" y="246.00" width="3.00" height="2.00" fill="#90cc58"/><rect x="401.00" y="248.00" width="3.00" height="2.00" fill="#32658d"/><rect x="401.00" y="250.00" width="3.00" height="2.00" fill="#5cc463"/><rect x="401.00" y="252.00" width="3.00" height="2.00" fill="#20958a"/><rect x="401.00" y="254.00" width="3.00" height="2.00" fill="#5cc463"/><rect x="401.00" y="256.00" width="3.00" height="2.00" fill="#5cc463"/><rect x="404.00" y="246.00" width="3.00" height="2.00" fill="#20958a"/><rect x="404.00" y="248.00" width="3.00" height="2.00" fill="#5cc463"/><rect x="404.00" y="250.00" width="3.00" height="2.00" fill="#20958a"/><rect x="404.00" y="252.00" width="3.00" height="2.00" fill="#5cc463"/><rect x="404.00" y="254.00" width="3.00" height="2.00" fill="#5cc463"/><rect x="407.00" y="244.00" width="4.00" height="2.00" fill="#90cc58"/><rect x="407.00" y="246.00" width="4.00" height="2.00" fill="#20958a"/><rect x="407.00" y="252.00" width="4.00" height="2.00" fill="#5cc463"/><rect x="407.00" y="254.00" width="4.00" height="2.00" fill="#5cc463"/><rect x="411.00" y="242.00" width="3.00" height="2.00" fill="#deeac6"/><rect x="411.00" y="244.00" width="3.00" height="2.00" fill="#5cc463"/><rect x="411.00" y="246.00" width="3.00" height="2.00" fill="#90cc58"/><rect x="411.00" y="248.00" width="3.00" height="2.00" fill="#20958a"/><rect x="411.00" y="250.00" width="3.00" height="2.00" fill="#32658d"/><rect x="411.00" y="252.00" width="3.00" height="2.00" fill="#deeac6"/><rect x="411.00" y="254.00" width="3.00" height="2.00" fill="#5cc463"/><rect x="414.00" y="242.00" width="4.00" height="2.00" fill="#deeac6"/><rect x="414.00" y="244.00" width="4.00" height="2.00" fill="#20958a"/><rect x="414.00" y="246.00" width="4.00" height="2.00" fill="#90cc58"/><rect x="414.00" y="248.00" width="4.00" height="2.00" fill="#5cc463"/><rect x="414.00" y="250.00" width="4.00" height="2.00" fill="#20958a"/><rect x="414.00" y="254.00" width="4.00" height="2.00" fill="#5cc463"/><rect x="418.00" y="240.00" width="3.00" height="2.00" fill="#deeac6"/><rect x="418.00" y="242.00" width="3.00" height="2.00" fill="#5cc463"/><rect x="418.00" y="246.00" width="3.00" height="2.00" fill="#20958a"/><rect x="418.00" y="248.00" width="3.00" height="2.00" fill="#5cc463"/><rect x="418.00" y="250.00" width="3.00" height="2.00" fill="#deeac6"/><rect x="421.00" y="240.00" width="4.00" height="2.00" fill="#90cc58"/><rect x="421.00" y="242.00" width="4.00" height="2.00" fill="#20958a"/><rect x="421.00" y="244.00" width="4.00" height="2.00" fill="#20958a"/><rect x="421.00" y="246.00" width="4.00" height="2.00" fill="#90cc58"/><rect x="421.00" y="250.00" width="4.00" height="2.00" fill="#deeac6"/><rect x="421.00" y="252.00" width="4.00" height="2.00" fill="#5cc463"/><rect x="425.00" y="240.00" width="3.00" height="2.00" fill="#deeac6"/><rect x="425.00" y="244.00" width="3.00" height="2.00" fill="#20958a"/><rect x="425.00" y="246.00" width="3.00" height="2.00" fill="#5cc463"/><rect x="425.00" y="252.00" width="3.00" height="2.00" fill="#5cc463"/><rect x="428.00" y="240.00" width="4.00" height="2.00" fill="#90cc58"/><rect x="428.00" y="242.00" width="4.00" height="2.00" fill="#20958a"/><rect x="428.00" y="244.00" width="4.00" height="2.00" fill="#32658d"/><rect x="428.00" y="246.00" width="4.00" height="2.00" fill="#90cc58"/><rect x="428.00" y="248.00" width="4.00" height="2.00" fill="#deeac6"/><rect x="428.00" y="250.00" width="4.00" height="2.00" fill="#5cc463"/><rect x="432.00" y="240.00" width="3.00" height="2.00" fill="#90cc58"/><rect x="432.00" y="242.00" width="3.00" height="2.00" fill="#20958a"/><rect x="432.00" y="244.00" width="3.00" height="2.00" fill="#32658d"/><rect x="435.00" y="242.00" width="4.00" height="2.00" fill="#20958a"/><rect x="435.00" y="244.00" width="4.00" height="2.00" fill="#471a6b"/><rect x="435.00" y="246.00" width="4.00" height="2.00" fill="#90cc58"/><rect x="435.00" y="258.00" width="4.00" height="2.00" fill="#deeac6"/><rect x="439.00" y="240.00" width="3.00" height="2.00" fill="#20958a"/><rect x="439.00" y="242.00" width="3.00" height="2.00" fill="#32658d"/><rect x="439.00" y="244.00" width="3.00" height="2.00" fill="#20958a"/><rect x="439.00" y="246.00" width="3.00" height="2.00" fill="#deeac6"/><rect x="439.00" y="248.00" width="3.00" height="2.00" fill="#5cc463"/><rect x="442.00" y="239.00" width="4.00" height="1.00" fill="#deeac6"/><rect x="442.00" y="240.00" width="4.00" height="2.00" fill="#32658d"/><rect x="442.00" y="242.00" width="4.00" height="2.00" fill="#20958a"/><rect x="442.00" y="244.00" width="4.00" height="2.00" fill="#5cc463"/><rect x="442.00" y="246.00" width="4.00" height="2.00" fill="#deeac6"/><rect x="442.00" y="248.00" width="4.00" height="2.00" fill="#5cc463"/><rect x="442.00" y="254.00" width="4.00" height="2.00" fill="#deeac6"/><rect x="442.00" y="256.00" width="4.00" height="2.00" fill="#deeac6"/><rect x="442.00" y="258.00" width="4.00" height="2.00" fill="#deeac6"/><rect x="446.00" y="239.00" width="3.00" height="1.00" fill="#90cc58"/><rect x="446.00" y="240.00" width="3.00" height="2.00" fill="#20958a"/><rect x="446.00" y="242.00" width="3.00" height="2.00" fill="#20958a"/><rect x="446.00" y="246.00" width="3.00" height="2.00" fill="#deeac6"/><rect x="446.00" y="248.00" width="3.00" height="2.00" fill="#5cc463"/><rect x="446.00" y="250.00" width="3.00" height="2.00" fill="#5cc463"/><rect x="449.00" y="237.00" width="4.00" height="2.00" fill="#5cc463"/><rect x="449.00" y="239.00" width="4.00" height="1.00" fill="#5cc463"/><rect x="449.00" y="240.00" width="4.00" height="2.00" fill="#5cc463"/><rect x="449.00" y="242.00" width="4.00" height="2.00" fill="#90cc58"/><rect x="449.00" y="244.00" width="4.00" height="2.00" fill="#90cc58"/><rect x="449.00" y="246.00" width="4.00" height="2.00" fill="#deeac6"/><rect x="449.00" y="248.00" width="4.00" height="2.00" fill="#5cc463"/><rect x="449.00" y="250.00" width="4.00" height="2.00" fill="#deeac6"/><rect x="449.00" y="252.00" width="4.00" height="2.00" fill="#90cc58"/><rect x="449.00" y="254.00" width="4.00" height="2.00" fill="#deeac6"/><rect x="449.00" y="256.00" width="4.00" height="2.00" fill="#90cc58"/><rect x="449.00" y="258.00" width="4.00" height="2.00" fill="#deeac6"/><rect x="453.00" y="237.00" width="3.00" height="2.00" fill="#5cc463"/><rect x="453.00" y="239.00" width="3.00" height="1.00" fill="#5cc463"/><rect x="453.00" y="240.00" width="3.00" height="2.00" fill="#5cc463"/><rect x="453.00" y="242.00" width="3.00" height="2.00" fill="#90cc58"/><rect x="453.00" y="244.00" width="3.00" height="2.00" fill="#90cc58"/><rect x="453.00" y="248.00" width="3.00" height="2.00" fill="#5cc463"/><rect x="453.00" y="250.00" width="3.00" height="2.00" fill="#deeac6"/><rect x="453.00" y="252.00" width="3.00" height="2.00" fill="#90cc58"/><rect x="453.00" y="254.00" width="3.00" height="2.00" fill="#deeac6"/><rect x="453.00" y="256.00" width="3.00" height="2.00" fill="#90cc58"/><rect x="453.00" y="258.00" width="3.00" height="2.00" fill="#deeac6"/><rect x="456.00" y="235.00" width="3.00" height="2.00" fill="#deeac6"/><rect x="456.00" y="237.00" width="3.00" height="2.00" fill="#5cc463"/><rect x="456.00" y="239.00" width="3.00" height="1.00" fill="#5cc463"/><rect x="456.00" y="240.00" width="3.00" height="2.00" fill="#90cc58"/><rect x="456.00" y="242.00" width="3.00" height="2.00" fill="#20958a"/><rect x="456.00" y="244.00" width="3.00" height="2.00" fill="#90cc58"/><rect x="456.00" y="246.00" width="3.00" height="2.00" fill="#5cc463"/><rect x="456.00" y="250.00" width="3.00" height="2.00" fill="#deeac6"/><rect x="456.00" y="252.00" width="3.00" height="2.00" fill="#90cc58"/><rect x="456.00" y="254.00" width="3.00" height="2.00" fill="#deeac6"/><rect x="456.00" y="256.00" width="3.00" height="2.00" fill="#90cc58"/><rect x="459.00" y="235.00" width="4.00" height="2.00" fill="#deeac6"/><rect x="459.00" y="237.00" width="4.00" height="2.00" fill="#5cc463"/><rect x="459.00" y="239.00" width="4.00" height="1.00" fill="#5cc463"/><rect x="459.00" y="240.00" width="4.00" height="2.00" fill="#90cc58"/><rect x="459.00" y="242.00" width="4.00" height="2.00" fill="#20958a"/><rect x="459.00" y="244.00" width="4.00" height="2.00" fill="#90cc58"/><rect x="459.00" y="246.00" width="4.00" height="2.00" fill="#5cc463"/><rect x="459.00" y="250.00" width="4.00" height="2.00" fill="#deeac6"/><rect x="459.00" y="252.00" width="4.00" height="2.00" fill="#90cc58"/><rect x="459.00" y="254.00" width="4.00" height="2.00" fill="#deeac6"/><rect x="459.00" y="256.00" width="4.00" height="2.00" fill="#90cc58"/><rect x="505.00" y="225.00" width="3.00" height="2.00" fill="#deeac6"/><rect x="505.00" y="229.00" width="3.00" height="2.00" fill="#deeac6"/><rect x="505.00" y="231.00" width="3.00" height="2.00" fill="#5cc463"/><rect x="505.00" y="233.00" width="3.00" height="2.00" fill="#20958a"/><rect x="505.00" y="235.00" width="3.00" height="2.00" fill="#90cc58"/><rect x="505.00" y="237.00" width="3.00" height="2.00" fill="#5cc463"/><rect x="505.00" y="240.00" width="3.00" height="2.00" fill="#deeac6"/><rect x="505.00" y="242.00" width="3.00" height="2.00" fill="#deeac6"/><rect x="505.00" y="244.00" width="3.00" height="2.00" fill="#deeac6"/><rect x="505.00" y="246.00" width="3.00" height="2.00" fill="#90cc58"/><rect x="505.00" y="250.00" width="3.00" height="2.00" fill="#deeac6"/><rect x="508.00" y="225.00" width="3.00" height="2.00" fill="#deeac6"/><rect x="508.00" y="229.00" width="3.00" height="2.00" fill="#deeac6"/><rect x="508.00" y="231.00" width="3.00" height="2.00" fill="#5cc463"/><rect x="508.00" y="233.00" width="3.00" height="2.00" fill="#20958a"/><rect x="508.00" y="235.00" width="3.00" height="2.00" fill="#90cc58"/><rect x="508.00" y="237.00" width="3.00" height="2.00" fill="#5cc463"/><rect x="508.00" y="240.00" width="3.00" height="2.00" fill="#deeac6"/><rect x="508.00" y="242.00" width="3.00" height="2.00" fill="#deeac6"/><rect x="508.00" y="244.00" width="3.00" height="2.00" fill="#deeac6"/><rect x="508.00" y="246.00" width="3.00" height="2.00" fill="#90cc58"/><rect x="508.00" y="250.00" width="3.00" height="2.00" fill="#deeac6"/><rect x="511.00" y="225.00" width="4.00" height="2.00" fill="#deeac6"/><rect x="511.00" y="229.00" width="4.00" height="2.00" fill="#deeac6"/><rect x="511.00" y="231.00" width="4.00" height="2.00" fill="#5cc463"/><rect x="511.00" y="233.00" width="4.00" height="2.00" fill="#20958a"/><rect x="511.00" y="235.00" width="4.00" height="2.00" fill="#90cc58"/><rect x="511.00" y="237.00" width="4.00" height="2.00" fill="#5cc463"/><rect x="511.00" y="240.00" width="4.00" height="2.00" fill="#deeac6"/><rect x="511.00" y="242.00" width="4.00" height="2.00" fill="#deeac6"/><rect x="511.00" y="244.00" width="4.00" height="2.00" fill="#deeac6"/><rect x="511.00" y="246.00" width="4.00" height="2.00" fill="#90cc58"/><rect x="511.00" y="250.00" width="4.00" height="2.00" fill="#deeac6"/><rect x="515.00" y="225.00" width="3.00" height="2.00" fill="#deeac6"/><rect x="515.00" y="229.00" width="3.00" height="2.00" fill="#deeac6"/><rect x="515.00" y="231.00" width="3.00" height="2.00" fill="#5cc463"/><rect x="515.00" y="233.00" width="3.00" height="2.00" fill="#20958a"/><rect x="515.00" y="235.00" width="3.00" height="2.00" fill="#90cc58"/><rect x="515.00" y="237.00" width="3.00" height="2.00" fill="#5cc463"/><rect x="515.00" y="240.00" width="3.00" height="2.00" fill="#deeac6"/><rect x="515.00" y="242.00" width="3.00" height="2.00" fill="#deeac6"/><rect x="515.00" y="244.00" width="3.00" height="2.00" fill="#deeac6"/><rect x="515.00" y="246.00" width="3.00" height="2.00" fill="#90cc58"/><rect x="515.00" y="250.00" width="3.00" height="2.00" fill="#deeac6"/><rect x="518.00" y="225.00" width="4.00" height="2.00" fill="#deeac6"/><rect x="518.00" y="229.00" width="4.00" height="2.00" fill="#deeac6"/><rect x="518.00" y="231.00" width="4.00" height="2.00" fill="#5cc463"/><rect x="518.00" y="233.00" width="4.00" height="2.00" fill="#20958a"/><rect x="518.00" y="235.00" width="4.00" height="2.00" fill="#90cc58"/><rect x="518.00" y="237.00" width="4.00" height="2.00" fill="#5cc463"/><rect x="518.00" y="240.00" width="4.00" height="2.00" fill="#deeac6"/><rect x="518.00" y="242.00" width="4.00" height="2.00" fill="#deeac6"/><rect x="518.00" y="244.00" width="4.00" height="2.00" fill="#deeac6"/><rect x="518.00" y="246.00" width="4.00" height="2.00" fill="#90cc58"/><rect x="518.00" y="250.00" width="4.00" height="2.00" fill="#deeac6"/><rect x="463.00" y="231.00" width="3.00" height="2.00" fill="#deeac6"/><rect x="463.00" y="233.00" width="3.00" height="2.00" fill="#20958a"/><rect x="463.00" y="237.00" width="3.00" height="2.00" fill="#5cc463"/><rect x="463.00" y="239.00" width="3.00" height="1.00" fill="#5cc463"/><rect x="463.00" y="240.00" width="3.00" height="2.00" fill="#5cc463"/><rect x="463.00" y="242.00" width="3.00" height="2.00" fill="#deeac6"/><rect x="463.00" y="244.00" width="3.00" height="2.00" fill="#5cc463"/><rect x="463.00" y="256.00" width="3.00" height="2.00" fill="#deeac6"/><rect x="466.00" y="231.00" width="4.00" height="2.00" fill="#deeac6"/><rect x="466.00" y="233.00" width="4.00" height="2.00" fill="#20958a"/><rect x="466.00" y="237.00" width="4.00" height="2.00" fill="#5cc463"/><rect x="466.00" y="239.00" width="4.00" height="1.00" fill="#5cc463"/><rect x="466.00" y="240.00" width="4.00" height="2.00" fill="#5cc463"/><rect x="466.00" y="242.00" width="4.00" height="2.00" fill="#deeac6"/><rect x="466.00" y="244.00" width="4.00" height="2.00" fill="#5cc463"/><rect x="466.00" y="252.00" width="4.00" height="2.00" fill="#90cc58"/><rect x="466.00" y="256.00" width="4.00" height="2.00" fill="#deeac6"/><rect x="470.00" y="231.00" width="3.00" height="2.00" fill="#5cc463"/><rect x="470.00" y="233.00" width="3.00" height="2.00" fill="#20958a"/><rect x="470.00" y="237.00" width="3.00" height="2.00" fill="#90cc58"/><rect x="470.00" y="239.00" width="3.00" height="1.00" fill="#5cc463"/><rect x="470.00" y="240.00" width="3.00" height="2.00" fill="#5cc463"/><rect x="470.00" y="242.00" width="3.00" height="2.00" fill="#deeac6"/><rect x="470.00" y="244.00" width="3.00" height="2.00" fill="#5cc463"/><rect x="470.00" y="250.00" width="3.00" height="2.00" fill="#deeac6"/><rect x="470.00" y="252.00" width="3.00" height="2.00" fill="#90cc58"/><rect x="470.00" y="256.00" width="3.00" height="2.00" fill="#deeac6"/><rect x="473.00" y="231.00" width="4.00" height="2.00" fill="#5cc463"/><rect x="473.00" y="233.00" width="4.00" height="2.00" fill="#20958a"/><rect x="473.00" y="237.00" width="4.00" height="2.00" fill="#90cc58"/><rect x="473.00" y="239.00" width="4.00" height="1.00" fill="#5cc463"/><rect x="473.00" y="240.00" width="4.00" height="2.00" fill="#5cc463"/><rect x="473.00" y="242.00" width="4.00" height="2.00" fill="#deeac6"/><rect x="473.00" y="244.00" width="4.00" height="2.00" fill="#5cc463"/><rect x="473.00" y="250.00" width="4.00" height="2.00" fill="#deeac6"/><rect x="473.00" y="252.00" width="4.00" height="2.00" fill="#90cc58"/><rect x="473.00" y="256.00" width="4.00" height="2.00" fill="#deeac6"/><rect x="477.00" y="229.00" width="3.00" height="2.00" fill="#deeac6"/><rect x="477.00" y="233.00" width="3.00" height="2.00" fill="#90cc58"/><rect x="477.00" y="235.00" width="3.00" height="2.00" fill="#deeac6"/><rect x="477.00" y="237.00" width="3.00" height="2.00" fill="#32658d"/><rect x="477.00" y="239.00" width="3.00" height="1.00" fill="#5cc463"/><rect x="477.00" y="240.00" width="3.00" height="2.00" fill="#5cc463"/><rect x="477.00" y="242.00" width="3.00" height="2.00" fill="#5cc463"/><rect x="477.00" y="244.00" width="3.00" height="2.00" fill="#5cc463"/><rect x="477.00" y="246.00" width="3.00" height="2.00" fill="#deeac6"/><rect x="477.00" y="250.00" width="3.00" height="2.00" fill="#90cc58"/><rect x="477.00" y="252.00" width="3.00" height="2.00" fill="#deeac6"/><rect x="480.00" y="229.00" width="4.00" height="2.00" fill="#deeac6"/><rect x="480.00" y="233.00" width="4.00" height="2.00" fill="#90cc58"/><rect x="480.00" y="235.00" width="4.00" height="2.00" fill="#deeac6"/><rect x="480.00" y="237.00" width="4.00" height="2.00" fill="#32658d"/><rect x="480.00" y="239.00" width="4.00" height="1.00" fill="#5cc463"/><rect x="480.00" y="240.00" width="4.00" height="2.00" fill="#5cc463"/><rect x="480.00" y="242.00" width="4.00" height="2.00" fill="#5cc463"/><rect x="480.00" y="244.00" width="4.00" height="2.00" fill="#5cc463"/><rect x="480.00" y="246.00" width="4.00" height="2.00" fill="#deeac6"/><rect x="480.00" y="250.00" width="4.00" height="2.00" fill="#90cc58"/><rect x="480.00" y="252.00" width="4.00" height="2.00" fill="#deeac6"/><rect x="484.00" y="229.00" width="3.00" height="2.00" fill="#deeac6"/><rect x="484.00" y="233.00" width="3.00" height="2.00" fill="#90cc58"/><rect x="484.00" y="235.00" width="3.00" height="2.00" fill="#deeac6"/><rect x="484.00" y="237.00" width="3.00" height="2.00" fill="#32658d"/><rect x="484.00" y="239.00" width="3.00" height="1.00" fill="#5cc463"/><rect x="484.00" y="240.00" width="3.00" height="2.00" fill="#5cc463"/><rect x="484.00" y="242.00" width="3.00" height="2.00" fill="#5cc463"/><rect x="484.00" y="244.00" width="3.00" height="2.00" fill="#5cc463"/><rect x="484.00" y="246.00" width="3.00" height="2.00" fill="#deeac6"/><rect x="484.00" y="250.00" width="3.00" height="2.00" fill="#90cc58"/><rect x="484.00" y="252.00" width="3.00" height="2.00" fill="#deeac6"/><rect x="487.00" y="229.00" width="4.00" height="2.00" fill="#deeac6"/><rect x="487.00" y="233.00" width="4.00" height="2.00" fill="#90cc58"/><rect x="487.00" y="235.00" width="4.00" height="2.00" fill="#deeac6"/><rect x="487.00" y="237.00" width="4.00" height="2.00" fill="#32658d"/><rect x="487.00" y="239.00" width="4.00" height="1.00" fill="#5cc463"/><rect x="487.00" y="240.00" width="4.00" height="2.00" fill="#5cc463"/><rect x="487.00" y="242.00" width="4.00" height="2.00" fill="#5cc463"/><rect x="487.00" y="244.00" width="4.00" height="2.00" fill="#5cc463"/><rect x="487.00" y="246.00" width="4.00" height="2.00" fill="#deeac6"/><rect x="487.00" y="250.00" width="4.00" height="2.00" fill="#90cc58"/><rect x="487.00" y="252.00" width="4.00" height="2.00" fill="#deeac6"/><rect x="491.00" y="227.00" width="3.00" height="2.00" fill="#deeac6"/><rect x="491.00" y="231.00" width="3.00" height="2.00" fill="#deeac6"/><rect x="491.00" y="235.00" width="3.00" height="2.00" fill="#deeac6"/><rect x="491.00" y="237.00" width="3.00" height="2.00" fill="#5cc463"/><rect x="491.00" y="239.00" width="3.00" height="1.00" fill="#5cc463"/><rect x="491.00" y="240.00" width="3.00" height="2.00" fill="#20958a"/><rect x="491.00" y="242.00" width="3.00" height="2.00" fill="#5cc463"/><rect x="491.00" y="244.00" width="3.00" height="2.00" fill="#5cc463"/><rect x="491.00" y="246.00" width="3.00" height="2.00" fill="#5cc463"/><rect x="491.00" y="250.00" width="3.00" height="2.00" fill="#deeac6"/><rect x="491.00" y="252.00" width="3.00" height="2.00" fill="#deeac6"/><rect x="494.00" y="227.00" width="4.00" height="2.00" fill="#deeac6"/><rect x="494.00" y="231.00" width="4.00" height="2.00" fill="#deeac6"/><rect x="494.00" y="235.00" width="4.00" height="2.00" fill="#deeac6"/><rect x="494.00" y="237.00" width="4.00" height="2.00" fill="#5cc463"/><rect x="494.00" y="239.00" width="4.00" height="1.00" fill="#5cc463"/><rect x="494.00" y="240.00" width="4.00" height="2.00" fill="#20958a"/><rect x="494.00" y="242.00" width="4.00" height="2.00" fill="#5cc463"/><rect x="494.00" y="244.00" width="4.00" height="2.00" fill="#5cc463"/><rect x="494.00" y="246.00" width="4.00" height="2.00" fill="#5cc463"/><rect x="494.00" y="250.00" width="4.00" height="2.00" fill="#deeac6"/><rect x="494.00" y="252.00" width="4.00" height="2.00" fill="#deeac6"/><rect x="498.00" y="227.00" width="3.00" height="2.00" fill="#deeac6"/><rect x="498.00" y="231.00" width="3.00" height="2.00" fill="#deeac6"/><rect x="498.00" y="235.00" width="3.00" height="2.00" fill="#deeac6"/><rect x="498.00" y="237.00" width="3.00" height="2.00" fill="#5cc463"/><rect x="498.00" y="239.00" width="3.00" height="1.00" fill="#5cc463"/><rect x="498.00" y="240.00" width="3.00" height="2.00" fill="#20958a"/><rect x="498.00" y="242.00" width="3.00" height="2.00" fill="#5cc463"/><rect x="498.00" y="244.00" width="3.00" height="2.00" fill="#5cc463"/><rect x="498.00" y="246.00" width="3.00" height="2.00" fill="#5cc463"/><rect x="498.00" y="250.00" width="3.00" height="2.00" fill="#deeac6"/><rect x="498.00" y="252.00" width="3.00" height="2.00" fill="#deeac6"/><rect x="501.00" y="227.00" width="4.00" height="2.00" fill="#deeac6"/><rect x="501.00" y="231.00" width="4.00" height="2.00" fill="#deeac6"/><rect x="501.00" y="235.00" width="4.00" height="2.00" fill="#deeac6"/><rect x="501.00" y="237.00" width="4.00" height="2.00" fill="#5cc463"/><rect x="501.00" y="239.00" width="4.00" height="1.00" fill="#5cc463"/><rect x="501.00" y="240.00" width="4.00" height="2.00" fill="#20958a"/><rect x="501.00" y="242.00" width="4.00" height="2.00" fill="#5cc463"/><rect x="501.00" y="244.00" width="4.00" height="2.00" fill="#5cc463"/><rect x="501.00" y="246.00" width="4.00" height="2.00" fill="#5cc463"/><rect x="501.00" y="250.00" width="4.00" height="2.00" fill="#deeac6"/><rect x="501.00" y="252.00" width="4.00" height="2.00" fill="#deeac6"/><rect x="102.00" y="217.00" width="4.00" height="2.00" fill="#deeac6"/><rect x="102.00" y="223.00" width="4.00" height="2.00" fill="#20958a"/><rect x="102.00" y="225.00" width="4.00" height="2.00" fill="#471a6b"/><rect x="102.00" y="227.00" width="4.00" height="2.00" fill="#20958a"/><rect x="102.00" y="229.00" width="4.00" height="2.00" fill="#471a6b"/><rect x="106.00" y="214.00" width="3.00" height="2.00" fill="#deeac6"/><rect x="106.00" y="219.00" width="3.00" height="2.00" fill="#5cc463"/><rect x="106.00" y="221.00" width="3.00" height="2.00" fill="#20958a"/><rect x="106.00" y="223.00" width="3.00" height="2.00" fill="#20958a"/><rect x="106.00" y="225.00" width="3.00" height="2.00" fill="#20958a"/><rect x="106.00" y="227.00" width="3.00" height="2.00" fill="#471a6b"/><rect x="109.00" y="212.00" width="4.00" height="2.00" fill="#deeac6"/><rect x="109.00" y="217.00" width="4.00" height="2.00" fill="#5cc463"/><rect x="109.00" y="219.00" width="4.00" height="2.00" fill="#5cc463"/><rect x="109.00" y="221.00" width="4.00" height="2.00" fill="#20958a"/><rect x="109.00" y="223.00" width="4.00" height="2.00" fill="#90cc58"/><rect x="109.00" y="225.00" width="4.00" height="2.00" fill="#471a6b"/><rect x="113.00" y="212.00" width="3.00" height="2.00" fill="#deeac6"/><rect x="113.00" y="217.00" width="3.00" height="2.00" fill="#32658d"/><rect x="113.00" y="219.00" width="3.00" height="2.00" fill="#5cc463"/><rect x="113.00" y="221.00" width="3.00" height="2.00" fill="#20958a"/><rect x="113.00" y="223.00" width="3.00" height="2.00" fill="#20958a"/><rect x="113.00" y="225.00" width="3.00" height="2.00" fill="#471a6b"/><rect x="116.00" y="216.00" width="4.00" height="1.00" fill="#20958a"/><rect x="116.00" y="217.00" width="4.00" height="2.00" fill="#20958a"/><rect x="116.00" y="219.00" width="4.00" height="2.00" fill="#20958a"/><rect x="116.00" y="221.00" width="4.00" height="2.00" fill="#5cc463"/><rect x="116.00" y="223.00" width="4.00" height="2.00" fill="#20958a"/><rect x="116.00" y="225.00" width="4.00" height="2.00" fill="#32658d"/><rect x="120.00" y="212.00" width="3.00" height="2.00" fill="#20958a"/><rect x="120.00" y="214.00" width="3.00" height="2.00" fill="#deeac6"/><rect x="120.00" y="216.00" width="3.00" height="1.00" fill="#90cc58"/><rect x="120.00" y="217.00" width="3.00" height="2.00" fill="#90cc58"/><rect x="120.00" y="219.00" width="3.00" height="2.00" fill="#deeac6"/><rect x="120.00" y="221.00" width="3.00" height="2.00" fill="#471a6b"/></g>
<path d="M77.5 48V336 M105.5 48V336 M121.5 48V336 M132.5 48V336 M141.5 48V336 M149.5 48V336 M155.5 48V336 M160.5 48V336 M165.5 48V336 M169.5 48V336 M197.5 48V336 M213.5 48V336 M224.5 48V336 M233.5 48V336 M241.5 48V336 M247.5 48V336 M252.5 48V336 M257.5 48V336 M261.5 48V336 M289.5 48V336 M305.5 48V336 M317.5 48V336 M326.5 48V336 M333.5 48V336 M339.5 48V336 M344.5 48V336 M349.5 48V336 M353.5 48V336 M381.5 48V336 M397.5 48V336 M409.5 48V336 M418.5 48V336 M425.5 48V336 M431.5 48V336 M437.5 48V336 M441.5 48V336 M445.5 48V336 M473.5 48V336 M489.5 48V336 M501.5 48V336 M510.5 48V336 M517.5 48V336 M523.5 48V336 M529.5 48V336 M533.5 48V336 M538.5 48V336 M77 67.5H538 M77 106.5H538 M77 144.5H538 M77 182.5H538 M77 221.5H538 M77 259.5H538 M77 298.5H538 M77 336.5H538" stroke="#b3b3b3" stroke-width="1.111" fill="none"/>
<g clip-path="url(#axc)">
<polyline points="168.96,127.68 200.52,139.02 215.51,164.16 252.19,182.40 314.55,140.16 322.20,137.28 334.79,145.92 343.85,169.91 370.56,182.40 381.02,217.91 496.13,193.93 721.92,45.14" fill="none" stroke="#666666" stroke-width="2.778" stroke-linejoin="round" stroke-linecap="square"/>
<polyline points="168.96,274.56 190.20,272.06 224.45,272.06 252.19,276.87 269.73,266.30 296.16,237.40 319.50,222.91 325.54,222.90 332.83,238.08 353.28,266.40 360.58,271.19 371.08,263.29 384.66,292.81 399.33,307.19 413.48,312.00 431.16,312.00 445.84,307.20 462.72,307.18 492.98,311.98 517.15,306.01 629.76,243.61 721.92,150.01" fill="none" stroke="#666666" stroke-width="2.778" stroke-linejoin="round" stroke-linecap="square"/>
<polyline points="104.54,223.27 108.01,221.35 111.48,220.31 114.95,219.51 118.41,218.82 121.88,214.43 125.35,210.86 128.82,211.02 132.28,211.47 135.75,212.02 139.22,212.58 142.69,212.98 146.16,213.18 149.62,213.38 153.09,213.19 156.56,212.96 160.03,212.26 163.49,211.38 166.96,210.24 170.43,208.90 173.90,207.83 177.36,207.17 180.83,206.36 184.30,205.71 187.77,205.21 191.24,204.75 194.70,204.75 198.17,204.75 201.64,204.69 205.11,204.39 208.57,204.08 212.04,203.77 215.51,204.04 218.98,204.35 222.44,204.66 225.91,205.23 229.38,205.93 232.85,206.63 236.32,207.38 239.78,208.14 243.25,208.43 246.72,208.48 250.19,208.41 253.65,208.23 257.12,207.86 260.59,207.10 264.06,205.91 267.52,204.57 270.99,202.94 274.46,201.09 277.93,199.16 281.40,197.13 284.86,195.17 288.33,193.46 291.80,191.81 295.27,190.82 298.73,189.83 302.20,189.60 305.67,189.44 309.14,189.91 312.60,190.57 316.07,192.26 319.54,193.82 323.01,195.20 326.48,197.05 329.94,199.09 333.41,202.10 336.88,206.38 340.35,211.02 343.81,216.22 347.28,220.73 350.75,225.45 354.22,231.25 357.68,238.36 361.15,243.18 364.62,247.02 368.09,249.00 371.56,249.51 375.02,249.96 378.49,250.20 381.96,251.40 385.43,253.26 388.89,254.53 392.36,255.43 395.83,255.50 399.30,255.58 402.77,255.43 406.23,255.23 409.70,255.02 413.17,254.40 416.64,253.74 420.10,253.08 423.57,252.53 427.04,251.97 430.51,251.42 433.97,250.90 437.44,250.38 440.91,249.98 444.38,249.91 447.85,249.31 451.31,248.59 454.78,247.95 458.25,247.31 461.72,246.47 465.18,244.49 468.65,244.24 472.12,243.99 475.59,243.74 479.05,243.56 482.52,243.46 485.99,243.36 489.46,243.27 492.93,243.19 496.39,243.12 499.86,243.05 503.33,241.84 506.80,237.74 510.26,237.65 513.73,237.57 517.20,237.48 520.67,237.40" fill="none" stroke="#000" stroke-width="2.083" stroke-linejoin="round" stroke-linecap="square"/>
</g>
<path d="M77.5 48.5H538.5V336.5H77.5Z" stroke="#000" stroke-width="1.111" fill="none" stroke-linejoin="miter" stroke-linecap="square"/>
<path d="M72.639 67.5H77.5 M72.639 106.5H77.5 M72.639 144.5H77.5 M72.639 182.5H77.5 M72.639 221.5H77.5 M72.639 259.5H77.5 M72.639 298.5H77.5 M72.639 336.5H77.5 M77.5 336.5V341.361 M169.5 336.5V341.361 M261.5 336.5V341.361 M353.5 336.5V341.361 M445.5 336.5V341.361 M538.5 336.5V341.361" stroke="#000" stroke-width="1.111" fill="none"/>
<path d="M105.5 336.5V339.278 M121.5 336.5V339.278 M132.5 336.5V339.278 M141.5 336.5V339.278 M149.5 336.5V339.278 M155.5 336.5V339.278 M160.5 336.5V339.278 M165.5 336.5V339.278 M197.5 336.5V339.278 M213.5 336.5V339.278 M224.5 336.5V339.278 M233.5 336.5V339.278 M241.5 336.5V339.278 M247.5 336.5V339.278 M252.5 336.5V339.278 M257.5 336.5V339.278 M289.5 336.5V339.278 M305.5 336.5V339.278 M317.5 336.5V339.278 M326.5 336.5V339.278 M333.5 336.5V339.278 M339.5 336.5V339.278 M344.5 336.5V339.278 M349.5 336.5V339.278 M381.5 336.5V339.278 M397.5 336.5V339.278 M409.5 336.5V339.278 M418.5 336.5V339.278 M425.5 336.5V339.278 M431.5 336.5V339.278 M437.5 336.5V339.278 M441.5 336.5V339.278 M473.5 336.5V339.278 M489.5 336.5V339.278 M501.5 336.5V339.278 M510.5 336.5V339.278 M517.5 336.5V339.278 M523.5 336.5V339.278 M529.5 336.5V339.278 M533.5 336.5V339.278" stroke="#000" stroke-width="0.833" fill="none"/>
<rect x="566.4" y="177" width="7.95" height="159" fill="url(#cbg)"/>
<path d="M566.5 177.5H574.5V336.5H566.5Z" stroke="#000" stroke-width="1.111" fill="none"/>
<path d="M581.5 336.5H586.361 M581.5 310.5H586.361 M581.5 283.5H586.361 M581.5 257.5H586.361 M581.5 230.5H586.361 M581.5 204.5H586.361 M581.5 177.5H586.361" stroke="#000" stroke-width="1.111" fill="none"/>
<rect x="116" y="380" width="408" height="7" fill="#008000"/>
<rect x="116" y="387" width="399" height="11" fill="#0000ff"/>
<path d="M96.5 379.5H544.5V398.5H96.5Z" stroke="#000" stroke-width="1.111" fill="none"/>
<path d="M116.5 398.5V403.361 M167.5 398.5V403.361 M218.5 398.5V403.361 M269.5 398.5V403.361 M320.5 398.5V403.361 M371.5 398.5V403.361 M422.5 398.5V403.361 M473.5 398.5V403.361 M524.5 398.5V403.361" stroke="#000" stroke-width="1.111" fill="none"/>
<g style="filter:grayscale(1)"><text x="0" y="0" transform="translate(62.41,357.31) scale(1.0238,1)" font-size="14.72" fill="#000">0.01</text><text x="0" y="0" transform="translate(159.43,357.31) scale(0.9914,1)" font-size="14.72" fill="#000">0.1</text><text x="0" y="0" transform="translate(256.76,357.13) scale(1.1032,1)" font-size="14.72" fill="#000">1</text><text x="0" y="0" transform="translate(344.85,357.31) scale(1.0222,1)" font-size="14.72" fill="#000">10</text><text x="0" y="0" transform="translate(432.82,357.31) scale(1.0499,1)" font-size="14.72" fill="#000">100</text><text x="0" y="0" transform="translate(520.81,357.31) scale(1.0630,1)" font-size="14.72" fill="#000">1000</text><text x="0" y="0" transform="translate(30.20,341.31) scale(1.0990,1)" font-size="14.72" fill="#000">−200</text><text x="0" y="0" transform="translate(29.18,303.31) scale(1.1304,1)" font-size="14.72" fill="#000">−180</text><text x="0" y="0" transform="translate(29.18,265.31) scale(1.1304,1)" font-size="14.72" fill="#000">−160</text><text x="0" y="0" transform="translate(30.20,226.31) scale(1.0990,1)" font-size="14.72" fill="#000">−140</text><text x="0" y="0" transform="translate(30.20,188.31) scale(1.0990,1)" font-size="14.72" fill="#000">−120</text><text x="0" y="0" transform="translate(30.20,150.31) scale(1.0990,1)" font-size="14.72" fill="#000">−100</text><text x="0" y="0" transform="translate(38.17,111.31) scale(1.1410,1)" font-size="14.72" fill="#000">−80</text><text x="0" y="0" transform="translate(38.17,73.31) scale(1.1410,1)" font-size="14.72" fill="#000">−60</text><text x="0" y="0" transform="translate(591.43,342.31) scale(0.9950,1)" font-size="14.72" fill="#000">0</text><text x="0" y="0" transform="translate(591.41,316.13) scale(1.0032,1)" font-size="14.72" fill="#000">5</text><text x="0" y="0" transform="translate(590.85,289.31) scale(1.0222,1)" font-size="14.72" fill="#000">10</text><text x="0" y="0" transform="translate(590.85,262.13) scale(1.0252,1)" font-size="14.72" fill="#000">15</text><text x="0" y="0" transform="translate(591.21,236.31) scale(1.0628,1)" font-size="14.72" fill="#000">20</text><text x="0" y="0" transform="translate(591.21,210.31) scale(1.0658,1)" font-size="14.72" fill="#000">25</text><text x="0" y="0" transform="translate(591.45,183.31) scale(0.9846,1)" font-size="14.72" fill="#000">30</text><text x="0" y="0" transform="translate(84.50,429.50) rotate(-30.0) translate(-30.92,5.06) scale(1.0643,1)" font-size="14.72" fill="#000">05-12 00</text><text x="0" y="0" transform="translate(135.50,429.50) rotate(-30.0) translate(-30.82,5.06) scale(1.0623,1)" font-size="14.72" fill="#000">05-12 03</text><text x="0" y="0" transform="translate(187.00,429.00) rotate(-30.0) translate(-30.94,5.06) scale(1.0664,1)" font-size="14.72" fill="#000">05-12 06</text><text x="0" y="0" transform="translate(237.50,429.50) rotate(-30.0) translate(-30.89,5.06) scale(1.0656,1)" font-size="14.72" fill="#000">05-12 09</text><text x="0" y="0" transform="translate(289.00,429.50) rotate(-30.0) translate(-30.68,5.06) scale(1.0591,1)" font-size="14.72" fill="#000">05-12 12</text><text x="0" y="0" transform="translate(339.50,429.00) rotate(-30.0) translate(-30.77,5.06) scale(1.0599,1)" font-size="14.72" fill="#000">05-12 15</text><text x="0" y="0" transform="translate(391.00,429.50) rotate(-30.0) translate(-30.90,5.06) scale(1.0650,1)" font-size="14.72" fill="#000">05-12 18</text><text x="0" y="0" transform="translate(442.00,429.50) rotate(-30.0) translate(-30.73,5.06) scale(1.0606,1)" font-size="14.72" fill="#000">05-12 21</text><text x="0" y="0" transform="translate(492.50,429.50) rotate(-30.0) translate(-30.92,5.06) scale(1.0643,1)" font-size="14.72" fill="#000">05-13 00</text><text x="0" y="0" transform="translate(273.71,375.55) scale(1.0683,1)" font-size="14.72" fill="#000">Period [s]</text><text x="0" y="0" transform="translate(620.50,194.50) rotate(-90.0) translate(-12.01,4.36) scale(1.1295,1)" font-size="14.72" fill="#000">[%]</text><g transform="translate(17.0,268.0) rotate(-90)"><text transform="translate(-1.24,0.00) scale(1.0294,1)" font-size="14.72">Power [</text><text transform="translate(51.72,0.00) scale(1.1471,1)" font-size="14.72" font-style="italic">m</text><text transform="translate(66.00,-5.30) scale(0.9588,1)" font-size="10.30">2</text><text transform="translate(73.00,0.00) scale(1.2227,1)" font-size="14.72">/</text><text transform="translate(77.47,0.00) scale(0.9258,1)" font-size="14.72" font-style="italic">s</text><text transform="translate(84.73,-5.30) scale(1.1557,1)" font-size="10.30">4</text><text transform="translate(92.00,0.00) scale(1.2227,1)" font-size="14.72">/</text><text transform="translate(95.50,0.00) scale(1.0961,1)" font-size="14.72" font-style="italic">Hz</text><text transform="translate(114.84,0.00) scale(1.3676,1)" font-size="14.72">]</text><text transform="translate(123.82,0.00) scale(1.1212,1)" font-size="14.72">[dB]</text></g><text x="0" y="0" transform="translate(108.85,9.67) scale(1.0579,1)" font-size="13.25" fill="#000">BK.BK52.00.HHZ   2022-05-12 -- 2022-05-12  (46/46 segments)</text><text x="0" y="0" transform="translate(179.63,24.67) scale(1.0028,1)" font-size="13.25" fill="#000">sensor_type STS-5A sensor_sn STS5A-BV</text><text x="0" y="0" transform="translate(176.41,39.67) scale(1.0535,1)" font-size="13.25" fill="#000">datalogger_type Q8 datalogger_sn Q8-BV</text></g>
</svg></body></html>
